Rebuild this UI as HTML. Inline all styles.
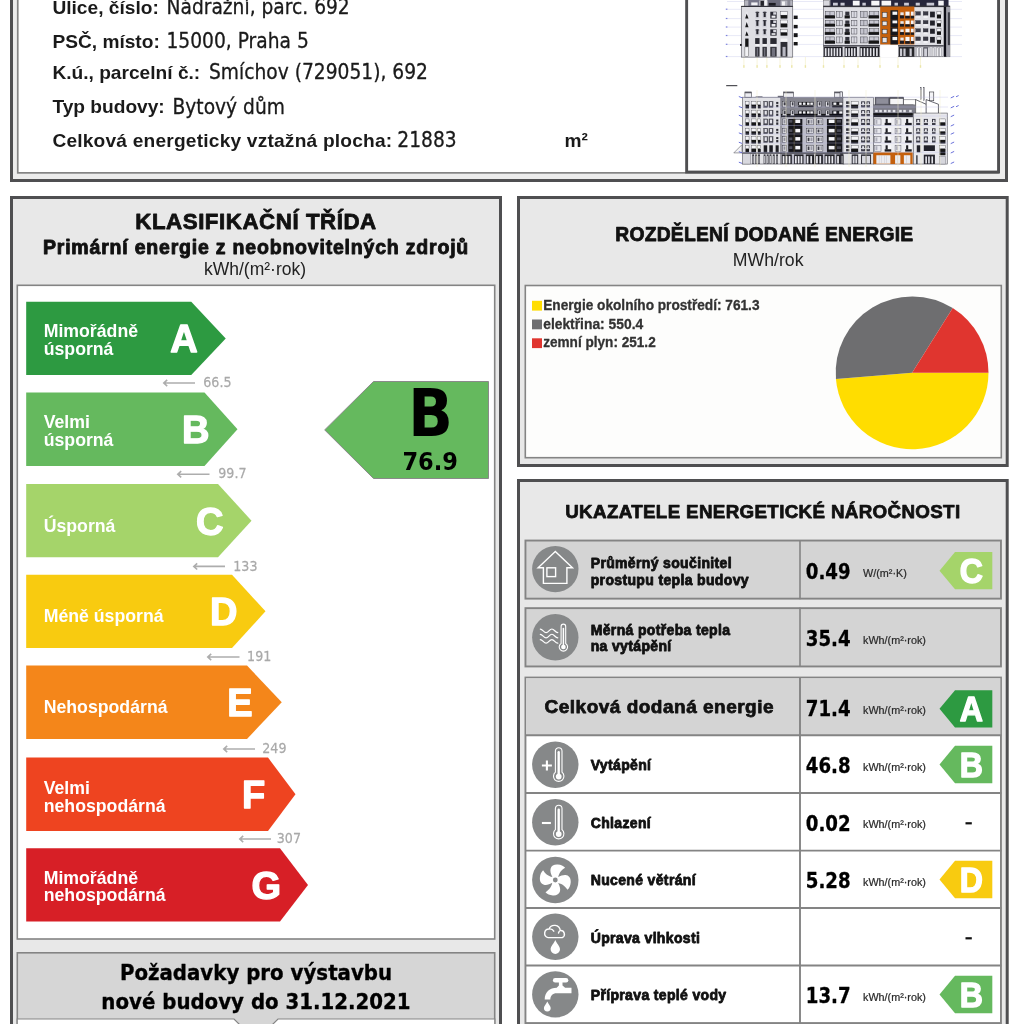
<!DOCTYPE html>
<html lang="cs"><head><meta charset="utf-8"><title>Průkaz energetické náročnosti budovy</title>
<style>
html,body{margin:0;padding:0;background:#fff;}
body{width:1024px;height:1024px;position:relative;overflow:hidden;}
.a{position:absolute;box-sizing:border-box;}
text{white-space:pre;}
svg{position:absolute;left:0;top:0;overflow:visible;}
</style></head><body>
<svg width="1024" height="1024" viewBox="0 0 1024 1024">
<rect x="11.50" y="-28.50" width="995.00" height="209.00" fill="#ececec" stroke="#4f4f51" stroke-width="3.0"/>
<rect x="17.75" y="-29.15" width="980.30" height="202.00" fill="#fff" stroke="#848484" stroke-width="1.7"/>
<rect x="686.65" y="-28.55" width="311.90" height="200.60" fill="#fff" stroke="#4f4f51" stroke-width="2.9"/>
<text x="52.4" y="14" text-anchor="start" fill="#1a1a1a" style="font:bold 19.15px 'Liberation Sans', sans-serif;">Ulice, číslo:</text>
<text x="166.5" y="14" text-anchor="start" fill="#1a1a1a" stroke="#1a1a1a" stroke-width="0.3" stroke-linejoin="round" transform="translate(166.5 0) scale(0.9 1) translate(-166.5 0)" style="font:normal 20.75px 'DejaVu Sans', sans-serif;">Nádražní, parc. 692</text>
<text x="52.4" y="48" text-anchor="start" fill="#1a1a1a" style="font:bold 19.15px 'Liberation Sans', sans-serif;">PSČ, místo:</text>
<text x="166.5" y="48" text-anchor="start" fill="#1a1a1a" stroke="#1a1a1a" stroke-width="0.3" stroke-linejoin="round" transform="translate(166.5 0) scale(0.9 1) translate(-166.5 0)" style="font:normal 20.75px 'DejaVu Sans', sans-serif;">15000, Praha 5</text>
<text x="52.4" y="79" text-anchor="start" fill="#1a1a1a" style="font:bold 19.15px 'Liberation Sans', sans-serif;">K.ú., parcelní č.:</text>
<text x="209" y="79" text-anchor="start" fill="#1a1a1a" stroke="#1a1a1a" stroke-width="0.3" stroke-linejoin="round" transform="translate(209 0) scale(0.9 1) translate(-209 0)" style="font:normal 20.75px 'DejaVu Sans', sans-serif;">Smíchov (729051), 692</text>
<text x="52.4" y="113" text-anchor="start" fill="#1a1a1a" style="font:bold 19.15px 'Liberation Sans', sans-serif;">Typ budovy:</text>
<text x="172.5" y="114" text-anchor="start" fill="#1a1a1a" stroke="#1a1a1a" stroke-width="0.3" stroke-linejoin="round" transform="translate(172.5 0) scale(0.9 1) translate(-172.5 0)" style="font:normal 20.75px 'DejaVu Sans', sans-serif;">Bytový dům</text>
<text x="52.4" y="147" text-anchor="start" fill="#1a1a1a" style="font:bold 19.15px 'Liberation Sans', sans-serif;letter-spacing:0.2px;">Celková energeticky vztažná plocha:</text>
<text x="397.3" y="147" text-anchor="start" fill="#1a1a1a" stroke="#1a1a1a" stroke-width="0.3" stroke-linejoin="round" transform="translate(397.3 0) scale(0.9 1) translate(-397.3 0)" style="font:normal 20.75px 'DejaVu Sans', sans-serif;">21883</text>
<text x="564.6" y="147" text-anchor="start" fill="#1a1a1a" style="font:bold 19.15px 'Liberation Sans', sans-serif;">m²</text>
<rect x="11.50" y="197.50" width="489.00" height="897.00" fill="#e8e8e8" stroke="#4f4f51" stroke-width="3.0"/>
<text x="256.0" y="229" text-anchor="middle" fill="#111" stroke="#111" stroke-width="0.8" stroke-linejoin="round" style="font:bold 22.3px 'Liberation Sans', sans-serif;letter-spacing:0.55px;">KLASIFIKAČNÍ TŘÍDA</text>
<text x="256.0" y="254" text-anchor="middle" fill="#111" stroke="#111" stroke-width="0.9" stroke-linejoin="round" style="font:bold 19.5px 'Liberation Sans', sans-serif;letter-spacing:0.8px;">Primární energie z neobnovitelných zdrojů</text>
<text x="255.0" y="274.5" text-anchor="middle" fill="#222" style="font:normal 17.5px 'Liberation Sans', sans-serif;">kWh/(m²·rok)</text>
<rect x="17.30" y="285.30" width="477.40" height="653.70" fill="#fff" stroke="#848484" stroke-width="1.6"/>
<rect x="518.50" y="197.50" width="488.70" height="268.00" fill="#e8e8e8" stroke="#4f4f51" stroke-width="3.0"/>
<text x="764.35" y="240.5" text-anchor="middle" fill="#111" stroke="#111" stroke-width="0.75" stroke-linejoin="round" style="font:bold 19.3px 'Liberation Sans', sans-serif;letter-spacing:0.24px;">ROZDĚLENÍ DODANÉ ENERGIE</text>
<text x="768.15" y="266" text-anchor="middle" fill="#222" style="font:normal 17.7px 'Liberation Sans', sans-serif;">MWh/rok</text>
<rect x="525.30" y="285.50" width="476.00" height="172.20" fill="#fdfdfc" stroke="#848484" stroke-width="1.6"/>
<rect x="518.50" y="480.50" width="488.70" height="697.00" fill="#e8e8e8" stroke="#4f4f51" stroke-width="3.0"/>
<text x="762.85" y="518" text-anchor="middle" fill="#111" stroke="#111" stroke-width="0.75" stroke-linejoin="round" style="font:bold 18.8px 'Liberation Sans', sans-serif;letter-spacing:0.33px;">UKAZATELE ENERGETICKÉ NÁROČNOSTI</text>
<path d="M26.2 301.75H191.25L225.75 338.4L191.25 375.05H26.2Z" fill="#2d9a41"/>
<text x="43.7" y="337.2" text-anchor="start" fill="#fff" style="font:bold 17.7px 'Liberation Sans', sans-serif;">Mimořádně</text>
<text x="43.7" y="354.79999999999995" text-anchor="start" fill="#fff" style="font:bold 17.7px 'Liberation Sans', sans-serif;">úsporná</text>
<text x="183.95" y="352.4" text-anchor="middle" fill="#fff" stroke="#fff" stroke-width="1.3" stroke-linejoin="round" style="font:bold 38px 'Liberation Sans', sans-serif;">A</text>
<path d="M26.2 392.6H204.5L237.5 429.25L204.5 465.90000000000003H26.2Z" fill="#65b95e"/>
<text x="43.7" y="428.05" text-anchor="start" fill="#fff" style="font:bold 17.7px 'Liberation Sans', sans-serif;">Velmi</text>
<text x="43.7" y="445.65" text-anchor="start" fill="#fff" style="font:bold 17.7px 'Liberation Sans', sans-serif;">úsporná</text>
<text x="195.7" y="443.25" text-anchor="middle" fill="#fff" stroke="#fff" stroke-width="1.3" stroke-linejoin="round" style="font:bold 38px 'Liberation Sans', sans-serif;">B</text>
<path d="M26.2 484.0H218L251.5 520.65L218 557.3H26.2Z" fill="#a5d46a"/>
<text x="43.7" y="531.65" text-anchor="start" fill="#fff" style="font:bold 17.7px 'Liberation Sans', sans-serif;">Úsporná</text>
<text x="209.7" y="534.65" text-anchor="middle" fill="#fff" stroke="#fff" stroke-width="1.3" stroke-linejoin="round" style="font:bold 38px 'Liberation Sans', sans-serif;">C</text>
<path d="M26.2 574.7H232L265.5 611.35L232 648.0H26.2Z" fill="#f8cb10"/>
<text x="43.7" y="622.35" text-anchor="start" fill="#fff" style="font:bold 17.7px 'Liberation Sans', sans-serif;">Méně úsporná</text>
<text x="223.7" y="625.35" text-anchor="middle" fill="#fff" stroke="#fff" stroke-width="1.3" stroke-linejoin="round" style="font:bold 38px 'Liberation Sans', sans-serif;">D</text>
<path d="M26.2 665.6H247L281.75 702.25L247 738.9H26.2Z" fill="#f4861a"/>
<text x="43.7" y="713.25" text-anchor="start" fill="#fff" style="font:bold 17.7px 'Liberation Sans', sans-serif;">Nehospodárná</text>
<text x="239.95" y="716.25" text-anchor="middle" fill="#fff" stroke="#fff" stroke-width="1.3" stroke-linejoin="round" style="font:bold 38px 'Liberation Sans', sans-serif;">E</text>
<path d="M26.2 757.6H268L295.5 794.25L268 830.9H26.2Z" fill="#ee4420"/>
<text x="43.7" y="794.4499999999999" text-anchor="start" fill="#fff" style="font:bold 17.7px 'Liberation Sans', sans-serif;">Velmi</text>
<text x="43.7" y="812.47" text-anchor="start" fill="#fff" style="font:bold 17.7px 'Liberation Sans', sans-serif;">nehospodárná</text>
<text x="253.7" y="808.25" text-anchor="middle" fill="#fff" stroke="#fff" stroke-width="1.3" stroke-linejoin="round" style="font:bold 38px 'Liberation Sans', sans-serif;">F</text>
<path d="M26.2 848.3H280L308 884.9499999999999L280 921.5999999999999H26.2Z" fill="#d71f26"/>
<text x="43.7" y="883.7499999999999" text-anchor="start" fill="#fff" style="font:bold 17.7px 'Liberation Sans', sans-serif;">Mimořádně</text>
<text x="43.7" y="901.3499999999999" text-anchor="start" fill="#fff" style="font:bold 17.7px 'Liberation Sans', sans-serif;">nehospodárná</text>
<text x="266.2" y="898.9499999999999" text-anchor="middle" fill="#fff" stroke="#fff" stroke-width="1.3" stroke-linejoin="round" style="font:bold 38px 'Liberation Sans', sans-serif;">G</text>
<path d="M163.8 383.0H195M167.2 379.90000000000003L163.8 383.0L167.2 386.1" fill="none" stroke="#adadad" stroke-width="1.6"/>
<text x="203.29999999999998" y="387.2" text-anchor="start" fill="#a9a9a9" stroke="#a9a9a9" stroke-width="0.25" stroke-linejoin="round" transform="translate(203.29999999999998 0) scale(0.873 1) translate(-203.29999999999998 0)" style="font:normal 14.5px 'DejaVu Sans', sans-serif;">66.5</text>
<path d="M177.8 474.2H209.5M181.2 471.1L177.8 474.2L181.2 477.3" fill="none" stroke="#adadad" stroke-width="1.6"/>
<text x="218.29999999999998" y="478.4" text-anchor="start" fill="#a9a9a9" stroke="#a9a9a9" stroke-width="0.25" stroke-linejoin="round" transform="translate(218.29999999999998 0) scale(0.873 1) translate(-218.29999999999998 0)" style="font:normal 14.5px 'DejaVu Sans', sans-serif;">99.7</text>
<path d="M193.8 566.4000000000001H225M197.2 563.3000000000001L193.8 566.4000000000001L197.2 569.5" fill="none" stroke="#adadad" stroke-width="1.6"/>
<text x="233.29999999999998" y="570.6" text-anchor="start" fill="#a9a9a9" stroke="#a9a9a9" stroke-width="0.25" stroke-linejoin="round" transform="translate(233.29999999999998 0) scale(0.873 1) translate(-233.29999999999998 0)" style="font:normal 14.5px 'DejaVu Sans', sans-serif;">133</text>
<path d="M207.8 657.0H239.5M211.2 653.9L207.8 657.0L211.2 660.0999999999999" fill="none" stroke="#adadad" stroke-width="1.6"/>
<text x="247.1" y="661.1999999999999" text-anchor="start" fill="#a9a9a9" stroke="#a9a9a9" stroke-width="0.25" stroke-linejoin="round" transform="translate(247.1 0) scale(0.873 1) translate(-247.1 0)" style="font:normal 14.5px 'DejaVu Sans', sans-serif;">191</text>
<path d="M223.8 749.0H255M227.2 745.9L223.8 749.0L227.2 752.0999999999999" fill="none" stroke="#adadad" stroke-width="1.6"/>
<text x="262.3" y="753.1999999999999" text-anchor="start" fill="#a9a9a9" stroke="#a9a9a9" stroke-width="0.25" stroke-linejoin="round" transform="translate(262.3 0) scale(0.873 1) translate(-262.3 0)" style="font:normal 14.5px 'DejaVu Sans', sans-serif;">249</text>
<path d="M239.8 839.0H271M243.2 835.9L239.8 839.0L243.2 842.0999999999999" fill="none" stroke="#adadad" stroke-width="1.6"/>
<text x="276.8" y="843.1999999999999" text-anchor="start" fill="#a9a9a9" stroke="#a9a9a9" stroke-width="0.25" stroke-linejoin="round" transform="translate(276.8 0) scale(0.873 1) translate(-276.8 0)" style="font:normal 14.5px 'DejaVu Sans', sans-serif;">307</text>
<path d="M324.7 429.9L373.5 381.5H488.5V478.5H373.5Z" fill="#65b95e" stroke="#8a8a8a" stroke-width="1"/>
<text x="430.5" y="436" text-anchor="middle" fill="#000" transform="translate(430.5 0) scale(0.9 1) translate(-430.5 0)" style="font:bold 65px 'DejaVu Sans', sans-serif;">B</text>
<text x="430.2" y="469.7" text-anchor="middle" fill="#000" transform="translate(430.2 0) scale(0.9 1) translate(-430.2 0)" style="font:bold 25px 'DejaVu Sans', sans-serif;">76.9</text>
<rect x="17.30" y="952.80" width="477.40" height="118.40" fill="#d6d6d6" stroke="#848484" stroke-width="1.6"/>
<text x="256.0" y="980" text-anchor="middle" fill="#000" stroke="#000" stroke-width="0.35" stroke-linejoin="round" transform="translate(256.0 0) scale(0.9 1) translate(-256.0 0)" style="font:bold 22px 'DejaVu Sans', sans-serif;">Požadavky pro výstavbu</text>
<text x="256.0" y="1008.9" text-anchor="middle" fill="#000" stroke="#000" stroke-width="0.35" stroke-linejoin="round" transform="translate(256.0 0) scale(0.9 1) translate(-256.0 0)" style="font:bold 22px 'DejaVu Sans', sans-serif;">nové budovy do 31.12.2021</text>
<path d="M17.2 1040V1019H234L256 1041L278 1019H494.8V1040Z" fill="#fff" stroke="#848484" stroke-width="1.2"/>
<path d="M912.1 372.8L988.50 372.80A76.4 76.4 0 0 1 835.95 378.98Z" fill="#ffdd00"/>
<path d="M912.1 372.8L835.95 378.98A76.4 76.4 0 0 1 952.74 308.11Z" fill="#6e6e70"/>
<path d="M912.1 372.8L952.74 308.11A76.4 76.4 0 0 1 988.50 372.80Z" fill="#e0352f"/>
<rect x="532" y="300.8" width="10" height="9.8" fill="#ffdd00"/>
<text x="543.2" y="309.8" text-anchor="start" fill="#333" stroke="#333" stroke-width="0.3" stroke-linejoin="round" textLength="216.3" lengthAdjust="spacingAndGlyphs" style="font:bold 14.5px 'Liberation Sans', sans-serif;">Energie okolního prostředí: 761.3</text>
<rect x="532" y="319.5" width="10" height="9.8" fill="#6e6e70"/>
<text x="543.2" y="328.5" text-anchor="start" fill="#333" stroke="#333" stroke-width="0.3" stroke-linejoin="round" textLength="100" lengthAdjust="spacingAndGlyphs" style="font:bold 14.5px 'Liberation Sans', sans-serif;">elektřina: 550.4</text>
<rect x="532" y="338.3" width="10" height="9.8" fill="#e0352f"/>
<text x="543.2" y="347.3" text-anchor="start" fill="#333" stroke="#333" stroke-width="0.3" stroke-linejoin="round" textLength="112.5" lengthAdjust="spacingAndGlyphs" style="font:bold 14.5px 'Liberation Sans', sans-serif;">zemní plyn: 251.2</text>
<rect x="525.45" y="540.55" width="475.50" height="58.10" fill="#d4d4d4" stroke="#848484" stroke-width="1.9"/>
<path d="M800 540V599.2" stroke="#848484" stroke-width="1.6"/>
<rect x="525.45" y="608.15" width="475.50" height="58.30" fill="#d4d4d4" stroke="#848484" stroke-width="1.9"/>
<path d="M800 607.6V667.0" stroke="#848484" stroke-width="1.6"/>
<text x="590.7" y="568.3" text-anchor="start" fill="#111" stroke="#111" stroke-width="0.8" stroke-linejoin="round" style="font:bold 14px 'Liberation Sans', sans-serif;letter-spacing:0.35px;">Průměrný součinitel</text>
<text x="590.7" y="585" text-anchor="start" fill="#111" stroke="#111" stroke-width="0.8" stroke-linejoin="round" style="font:bold 14px 'Liberation Sans', sans-serif;letter-spacing:0.35px;">prostupu tepla budovy</text>
<text x="805.8" y="579.0" text-anchor="start" fill="#000" stroke="#000" stroke-width="0.3" stroke-linejoin="round" transform="translate(805.8 0) scale(0.855 1) translate(-805.8 0)" style="font:bold 21.3px 'DejaVu Sans', sans-serif;">0.49</text>
<text x="863" y="576.5999999999999" text-anchor="start" fill="#2a2a2a" stroke="#2a2a2a" stroke-width="0.22" stroke-linejoin="round" style="font:normal 10.8px 'Liberation Sans', sans-serif;">W/(m²·K)</text>
<path d="M939.5 570.7L955 552.0500000000001H992.3V589.35H955Z" fill="#a5d46a"/>
<text x="971.3" y="583.3000000000001" text-anchor="middle" fill="#fff" stroke="#fff" stroke-width="1.4" stroke-linejoin="round" transform="translate(971.3 0) scale(0.93 1) translate(-971.3 0)" style="font:bold 34.5px 'Liberation Sans', sans-serif;">C</text>
<text x="590.7" y="634.5" text-anchor="start" fill="#111" stroke="#111" stroke-width="0.8" stroke-linejoin="round" style="font:bold 14px 'Liberation Sans', sans-serif;letter-spacing:0.35px;">Měrná potřeba tepla</text>
<text x="590.7" y="650.5" text-anchor="start" fill="#111" stroke="#111" stroke-width="0.8" stroke-linejoin="round" style="font:bold 14px 'Liberation Sans', sans-serif;letter-spacing:0.35px;">na vytápění</text>
<text x="805.8" y="646.5" text-anchor="start" fill="#000" stroke="#000" stroke-width="0.3" stroke-linejoin="round" transform="translate(805.8 0) scale(0.855 1) translate(-805.8 0)" style="font:bold 21.3px 'DejaVu Sans', sans-serif;">35.4</text>
<text x="863" y="644.0999999999999" text-anchor="start" fill="#2a2a2a" stroke="#2a2a2a" stroke-width="0.22" stroke-linejoin="round" style="font:normal 10.8px 'Liberation Sans', sans-serif;">kWh/(m²·rok)</text>
<rect x="525.45" y="677.55" width="475.50" height="345.50" fill="#fff" stroke="#848484" stroke-width="1.9"/>
<rect x="526.00" y="678.20" width="474.40" height="57.00" fill="#d4d4d4"/>
<path d="M525 735.3H1001.5" stroke="#848484" stroke-width="1.9"/>
<path d="M525 793H1001.5" stroke="#848484" stroke-width="1.9"/>
<path d="M525 850.6H1001.5" stroke="#848484" stroke-width="1.9"/>
<path d="M525 908H1001.5" stroke="#848484" stroke-width="1.9"/>
<path d="M525 965.5H1001.5" stroke="#848484" stroke-width="1.9"/>
<path d="M800 677V1024" stroke="#848484" stroke-width="1.9"/>
<text x="544.5" y="712.5" text-anchor="start" fill="#111" stroke="#111" stroke-width="0.75" stroke-linejoin="round" style="font:bold 19px 'Liberation Sans', sans-serif;letter-spacing:0.5px;">Celková dodaná energie</text>
<text x="805.8" y="716.5" text-anchor="start" fill="#000" stroke="#000" stroke-width="0.3" stroke-linejoin="round" transform="translate(805.8 0) scale(0.855 1) translate(-805.8 0)" style="font:bold 21.3px 'DejaVu Sans', sans-serif;">71.4</text>
<text x="863" y="714.0999999999999" text-anchor="start" fill="#2a2a2a" stroke="#2a2a2a" stroke-width="0.22" stroke-linejoin="round" style="font:normal 10.8px 'Liberation Sans', sans-serif;">kWh/(m²·rok)</text>
<path d="M939.5 708.8L955 690.15H992.3V727.4499999999999H955Z" fill="#2d9a41"/>
<text x="971.3" y="721.4" text-anchor="middle" fill="#fff" stroke="#fff" stroke-width="1.4" stroke-linejoin="round" transform="translate(971.3 0) scale(0.93 1) translate(-971.3 0)" style="font:bold 34.5px 'Liberation Sans', sans-serif;">A</text>
<text x="590.7" y="770.1" text-anchor="start" fill="#111" stroke="#111" stroke-width="0.8" stroke-linejoin="round" style="font:bold 14px 'Liberation Sans', sans-serif;letter-spacing:0.35px;">Vytápění</text>
<text x="805.8" y="773.3000000000001" text-anchor="start" fill="#000" stroke="#000" stroke-width="0.3" stroke-linejoin="round" transform="translate(805.8 0) scale(0.855 1) translate(-805.8 0)" style="font:bold 21.3px 'DejaVu Sans', sans-serif;">46.8</text>
<text x="863" y="770.9" text-anchor="start" fill="#2a2a2a" stroke="#2a2a2a" stroke-width="0.22" stroke-linejoin="round" style="font:normal 10.8px 'Liberation Sans', sans-serif;">kWh/(m²·rok)</text>
<path d="M939.5 764.5L955 745.85H992.3V783.15H955Z" fill="#65b95e"/>
<text x="971.3" y="777.1" text-anchor="middle" fill="#fff" stroke="#fff" stroke-width="1.4" stroke-linejoin="round" transform="translate(971.3 0) scale(0.93 1) translate(-971.3 0)" style="font:bold 34.5px 'Liberation Sans', sans-serif;">B</text>
<text x="590.7" y="827.6" text-anchor="start" fill="#111" stroke="#111" stroke-width="0.8" stroke-linejoin="round" style="font:bold 14px 'Liberation Sans', sans-serif;letter-spacing:0.35px;">Chlazení</text>
<text x="805.8" y="830.8000000000001" text-anchor="start" fill="#000" stroke="#000" stroke-width="0.3" stroke-linejoin="round" transform="translate(805.8 0) scale(0.855 1) translate(-805.8 0)" style="font:bold 21.3px 'DejaVu Sans', sans-serif;">0.02</text>
<text x="863" y="828.4" text-anchor="start" fill="#2a2a2a" stroke="#2a2a2a" stroke-width="0.22" stroke-linejoin="round" style="font:normal 10.8px 'Liberation Sans', sans-serif;">kWh/(m²·rok)</text>
<rect x="965.5" y="822.2" width="6.3" height="2.2" fill="#111"/>
<text x="590.7" y="885.1" text-anchor="start" fill="#111" stroke="#111" stroke-width="0.8" stroke-linejoin="round" style="font:bold 14px 'Liberation Sans', sans-serif;letter-spacing:0.35px;">Nucené větrání</text>
<text x="805.8" y="888.3000000000001" text-anchor="start" fill="#000" stroke="#000" stroke-width="0.3" stroke-linejoin="round" transform="translate(805.8 0) scale(0.855 1) translate(-805.8 0)" style="font:bold 21.3px 'DejaVu Sans', sans-serif;">5.28</text>
<text x="863" y="885.9" text-anchor="start" fill="#2a2a2a" stroke="#2a2a2a" stroke-width="0.22" stroke-linejoin="round" style="font:normal 10.8px 'Liberation Sans', sans-serif;">kWh/(m²·rok)</text>
<path d="M939.5 879.5L955 860.85H992.3V898.15H955Z" fill="#f8cb10"/>
<text x="971.3" y="892.1" text-anchor="middle" fill="#fff" stroke="#fff" stroke-width="1.4" stroke-linejoin="round" transform="translate(971.3 0) scale(0.93 1) translate(-971.3 0)" style="font:bold 34.5px 'Liberation Sans', sans-serif;">D</text>
<text x="590.7" y="942.6" text-anchor="start" fill="#111" stroke="#111" stroke-width="0.8" stroke-linejoin="round" style="font:bold 14px 'Liberation Sans', sans-serif;letter-spacing:0.35px;">Úprava vlhkosti</text>
<rect x="965.5" y="937.2" width="6.3" height="2.2" fill="#111"/>
<text x="590.7" y="1000.1" text-anchor="start" fill="#111" stroke="#111" stroke-width="0.8" stroke-linejoin="round" style="font:bold 14px 'Liberation Sans', sans-serif;letter-spacing:0.35px;">Příprava teplé vody</text>
<text x="805.8" y="1003.3000000000001" text-anchor="start" fill="#000" stroke="#000" stroke-width="0.3" stroke-linejoin="round" transform="translate(805.8 0) scale(0.855 1) translate(-805.8 0)" style="font:bold 21.3px 'DejaVu Sans', sans-serif;">13.7</text>
<text x="863" y="1000.9" text-anchor="start" fill="#2a2a2a" stroke="#2a2a2a" stroke-width="0.22" stroke-linejoin="round" style="font:normal 10.8px 'Liberation Sans', sans-serif;">kWh/(m²·rok)</text>
<path d="M939.5 994.5L955 975.85H992.3V1013.15H955Z" fill="#65b95e"/>
<text x="971.3" y="1007.1" text-anchor="middle" fill="#fff" stroke="#fff" stroke-width="1.4" stroke-linejoin="round" transform="translate(971.3 0) scale(0.93 1) translate(-971.3 0)" style="font:bold 34.5px 'Liberation Sans', sans-serif;">B</text>
<g transform="translate(555.3 569.1)"><circle r="23.2" fill="#868889"/><path d="M0 -17.6L-17.2 -1.3H-11.9V14.3H11.6V-1.3H17.2Z" fill="none" stroke="#fff" stroke-width="1.4" stroke-linejoin="miter"/><rect x="-8.4" y="-1.3" width="8.7" height="8.8" fill="none" stroke="#fff" stroke-width="1.4" stroke-linejoin="miter"/></g>
<g transform="translate(555.3 637.3)"><circle r="23.2" fill="#868889"/><path d="M-15 -8.2C-12.6 -8.2 -11.6 -4.7 -9.2 -4.7S-5.9 -8.3 -3.4 -8.3S-0.2 -4.7 2.5 -4.7" fill="none" stroke="#fff" stroke-width="1.2" stroke-linecap="round"/><path d="M-15 -2.95C-12.6 -2.95 -11.6 0.55 -9.2 0.55S-5.9 -3.05 -3.4 -3.05S-0.2 0.55 2.5 0.55" fill="none" stroke="#fff" stroke-width="1.2" stroke-linecap="round"/><path d="M-15 2.3499999999999996C-12.6 2.3499999999999996 -11.6 5.85 -9.2 5.85S-5.9 2.25 -3.4 2.25S-0.2 5.85 2.5 5.85" fill="none" stroke="#fff" stroke-width="1.2" stroke-linecap="round"/><path d="M5.8 6.129999999999999V-10.899999999999999A2.3 2.3 0 0 1 10.399999999999999 -10.899999999999999V6.129999999999999A4.2 4.2 0 1 1 5.8 6.129999999999999Z" fill="none" stroke="#fff" stroke-width="1.1"/><circle cx="8.1" cy="9.7" r="2.3100000000000005" fill="#fff"/><path d="M8.1 9.7V-8.7" stroke="#fff" stroke-width="1.5" stroke-linecap="round"/></g>
<g transform="translate(555.3 764.7)"><circle r="23.2" fill="#868889"/><path d="M-13.4 0.8H-3.4M-8.4 -4.2V5.8" stroke="#fff" stroke-width="2.1"/><path d="M0.10000000000000009 7.48V-13.7A3.3 3.3 0 0 1 6.699999999999999 -13.7V7.48A5.2 5.2 0 1 1 0.10000000000000009 7.48Z" fill="none" stroke="#fff" stroke-width="1.1"/><circle cx="3.4" cy="11.9" r="2.8600000000000003" fill="#fff"/><path d="M3.4 11.9V-12.5" stroke="#fff" stroke-width="2.4" stroke-linecap="round"/></g>
<g transform="translate(555.3 822.2)"><circle r="23.2" fill="#868889"/><path d="M-13.4 0.8H-4.4" stroke="#fff" stroke-width="2.1"/><path d="M0.10000000000000009 7.48V-13.7A3.3 3.3 0 0 1 6.699999999999999 -13.7V7.48A5.2 5.2 0 1 1 0.10000000000000009 7.48Z" fill="none" stroke="#fff" stroke-width="1.1"/><circle cx="3.4" cy="11.9" r="2.8600000000000003" fill="#fff"/><path d="M3.4 11.9V-12.5" stroke="#fff" stroke-width="2.4" stroke-linecap="round"/></g>
<g transform="translate(555.3 880)"><circle r="23.2" fill="#868889"/><g transform="rotate(0)"><path d="M-2.6 -2.4C-4.6 -6 -5.3 -9 -4.7 -11.3C-4 -14.3 -1 -15.7 2.5 -15.4C5.6 -15.1 8.2 -14 9.8 -12.2C6.8 -10.4 3.9 -7.6 2.9 -2.6Z" fill="#fff"/></g><g transform="rotate(90)"><path d="M-2.6 -2.4C-4.6 -6 -5.3 -9 -4.7 -11.3C-4 -14.3 -1 -15.7 2.5 -15.4C5.6 -15.1 8.2 -14 9.8 -12.2C6.8 -10.4 3.9 -7.6 2.9 -2.6Z" fill="#fff"/></g><g transform="rotate(180)"><path d="M-2.6 -2.4C-4.6 -6 -5.3 -9 -4.7 -11.3C-4 -14.3 -1 -15.7 2.5 -15.4C5.6 -15.1 8.2 -14 9.8 -12.2C6.8 -10.4 3.9 -7.6 2.9 -2.6Z" fill="#fff"/></g><g transform="rotate(270)"><path d="M-2.6 -2.4C-4.6 -6 -5.3 -9 -4.7 -11.3C-4 -14.3 -1 -15.7 2.5 -15.4C5.6 -15.1 8.2 -14 9.8 -12.2C6.8 -10.4 3.9 -7.6 2.9 -2.6Z" fill="#fff"/></g><circle r="4.2" fill="#fff"/><circle r="2.4" fill="#868889"/></g>
<g transform="translate(555.3 936.8)"><circle r="23.2" fill="#868889"/><path d="M-7.2 0.8A4.35 4.35 0 0 1 -6.3 -7.8A5.9 5.9 0 0 1 5 -6.3A3.75 3.75 0 0 1 7 0.8Z M-6.3 -7.8A4.6 4.6 0 0 1 -1.5 -5.6 M5 -6.3A3.6 3.6 0 0 0 3.2 -3.8" fill="none" stroke="#fff" stroke-width="1.4" stroke-linecap="round" stroke-linejoin="round"/><path d="M0 3.2C1.4 6.6 4.7 9.6 4.7 12.4A4.7 4.7 0 0 1 -4.7 12.4C-4.7 9.6 -1.4 6.6 0 3.2Z" fill="#fff"/></g>
<g transform="translate(555.3 994.4)"><circle r="23.2" fill="#868889"/><rect x="-2.4" y="-16.4" width="15.4" height="4.5" rx="2.25" fill="#fff"/><path d="M3.6 -12.5H7.2V-9L9.8 -6.6H16.2V-1.2H1.2C-2.6 -1.2 -5 1.4 -5 5.2H-10.6C-10.6 -2.4 -5.4 -6.6 1.4 -6.6L3.6 -9Z" fill="#fff"/><path d="M-8 7.2C-7 9.8 -4.6 11.6 -4.6 13.6A3.4 3.4 0 0 1 -11.4 13.6C-11.4 11.6 -9 9.8 -8 7.2Z" fill="#fff"/></g>
<defs><filter id="soft" x="-2%" y="-2%" width="104%" height="104%"><feGaussianBlur stdDeviation="0.38"/></filter></defs><g id="facades" filter="url(#soft)"><path d="M727 9.3H962" fill="none" stroke="#d9daf0" stroke-width="0.6"/><rect x="725.80" y="8.60" width="1.60" height="1.20" fill="#7d82dc"/><path d="M727 18.6H962" fill="none" stroke="#d9daf0" stroke-width="0.6"/><rect x="725.80" y="17.90" width="1.60" height="1.20" fill="#7d82dc"/><path d="M727 27.1H962" fill="none" stroke="#d9daf0" stroke-width="0.6"/><rect x="725.80" y="26.40" width="1.60" height="1.20" fill="#7d82dc"/><path d="M727 35.6H962" fill="none" stroke="#d9daf0" stroke-width="0.6"/><rect x="725.80" y="34.90" width="1.60" height="1.20" fill="#7d82dc"/><path d="M727 44.4H962" fill="none" stroke="#d9daf0" stroke-width="0.6"/><rect x="725.80" y="43.70" width="1.60" height="1.20" fill="#7d82dc"/><path d="M727 56.6H962" fill="none" stroke="#d9daf0" stroke-width="0.6"/><rect x="725.80" y="55.90" width="1.60" height="1.20" fill="#7d82dc"/><path d="M727 1.5H962" fill="none" stroke="#d9daf0" stroke-width="0.6"/><path d="M743.9 57V66" fill="none" stroke="#f1edc2" stroke-width="0.6"/><rect x="743.20" y="65.20" width="1.40" height="2.60" fill="#ece6a8"/><path d="M757.1 57V66" fill="none" stroke="#f1edc2" stroke-width="0.6"/><rect x="756.40" y="65.20" width="1.40" height="2.60" fill="#ece6a8"/><path d="M766.9 57V66" fill="none" stroke="#f1edc2" stroke-width="0.6"/><rect x="766.20" y="65.20" width="1.40" height="2.60" fill="#ece6a8"/><path d="M780 57V66" fill="none" stroke="#f1edc2" stroke-width="0.6"/><rect x="779.30" y="65.20" width="1.40" height="2.60" fill="#ece6a8"/><path d="M791.8 57V66" fill="none" stroke="#f1edc2" stroke-width="0.6"/><rect x="791.10" y="65.20" width="1.40" height="2.60" fill="#ece6a8"/><path d="M805.4 57V66" fill="none" stroke="#f1edc2" stroke-width="0.6"/><rect x="804.70" y="65.20" width="1.40" height="2.60" fill="#ece6a8"/><path d="M823.5 57V66" fill="none" stroke="#f1edc2" stroke-width="0.6"/><rect x="822.80" y="65.20" width="1.40" height="2.60" fill="#ece6a8"/><path d="M844 57V66" fill="none" stroke="#f1edc2" stroke-width="0.6"/><rect x="843.30" y="65.20" width="1.40" height="2.60" fill="#ece6a8"/><path d="M858 57V66" fill="none" stroke="#f1edc2" stroke-width="0.6"/><rect x="857.30" y="65.20" width="1.40" height="2.60" fill="#ece6a8"/><path d="M880 57V66" fill="none" stroke="#f1edc2" stroke-width="0.6"/><rect x="879.30" y="65.20" width="1.40" height="2.60" fill="#ece6a8"/><path d="M898 57V66" fill="none" stroke="#f1edc2" stroke-width="0.6"/><rect x="897.30" y="65.20" width="1.40" height="2.60" fill="#ece6a8"/><path d="M920.5 57V66" fill="none" stroke="#f1edc2" stroke-width="0.6"/><rect x="919.80" y="65.20" width="1.40" height="2.60" fill="#ece6a8"/><rect x="741.29" y="6.35" width="51.46" height="50.78" fill="#dedee3" stroke="#505058" stroke-width="0.6"/><rect x="744.41" y="0.00" width="48.34" height="6.35" fill="#b4b4be" stroke="#505058" stroke-width="0.5"/><rect x="748.32" y="0.00" width="10.74" height="6.05" fill="#77778a"/><rect x="751.25" y="2.44" width="6.35" height="2.93" fill="#f0f0f4"/><rect x="760.53" y="0.98" width="3.42" height="4.88" fill="#22222a"/><rect x="764.43" y="0.00" width="2.44" height="5.86" fill="#f4f4f6"/><rect x="767.85" y="0.00" width="12.70" height="6.05" fill="#6c6c7c"/><rect x="768.83" y="2.93" width="6.84" height="2.73" fill="#1a1a22"/><rect x="782.01" y="1.46" width="2.93" height="4.20" fill="#f4f4f6"/><rect x="787.38" y="0.00" width="2.93" height="6.05" fill="#8a8a96"/><rect x="741.29" y="5.86" width="51.46" height="0.98" fill="#2a2a30"/><rect x="745.59" y="11.72" width="2.25" height="6.84" fill="#e8e8ec"/><path d="M745.20 18.55L746.66 13.67L748.52 18.55Z" fill="#121216"/><rect x="755.16" y="11.72" width="4.39" height="6.84" fill="#d0d0d8"/><rect x="756.33" y="11.72" width="2.05" height="5.37" fill="#26262e"/><rect x="755.55" y="11.91" width="3.61" height="0.98" fill="#3a3a44"/><rect x="762.48" y="11.72" width="4.39" height="6.84" fill="#d0d0d8"/><rect x="763.65" y="11.72" width="2.05" height="5.37" fill="#26262e"/><rect x="762.87" y="11.91" width="3.61" height="0.98" fill="#3a3a44"/><rect x="770.29" y="11.72" width="6.35" height="6.84" fill="#2c2c36"/><rect x="771.56" y="15.62" width="3.91" height="2.15" fill="#eeeef2"/><rect x="773.22" y="12.21" width="2.93" height="2.44" fill="#d8d8e0"/><rect x="780.55" y="11.72" width="6.84" height="3.42" fill="#f4f4f6" stroke="#3c3c44" stroke-width="0.35"/><rect x="780.55" y="15.14" width="6.84" height="3.42" fill="#121216"/><rect x="745.59" y="20.02" width="2.25" height="7.32" fill="#e8e8ec"/><path d="M745.20 27.34L746.66 21.97L748.52 27.34Z" fill="#121216"/><rect x="755.16" y="20.02" width="4.39" height="7.32" fill="#d0d0d8"/><rect x="756.33" y="20.02" width="2.05" height="5.86" fill="#26262e"/><rect x="755.55" y="20.21" width="3.61" height="0.98" fill="#3a3a44"/><rect x="762.48" y="20.02" width="4.39" height="7.32" fill="#d0d0d8"/><rect x="763.65" y="20.02" width="2.05" height="5.86" fill="#26262e"/><rect x="762.87" y="20.21" width="3.61" height="0.98" fill="#3a3a44"/><rect x="770.29" y="20.02" width="6.35" height="7.32" fill="#2c2c36"/><rect x="771.56" y="23.93" width="3.91" height="2.64" fill="#eeeef2"/><rect x="773.22" y="20.51" width="2.93" height="2.44" fill="#d8d8e0"/><rect x="780.55" y="20.02" width="6.84" height="3.66" fill="#f4f4f6" stroke="#3c3c44" stroke-width="0.35"/><rect x="780.55" y="23.68" width="6.84" height="3.66" fill="#121216"/><rect x="745.59" y="29.30" width="2.25" height="6.35" fill="#e8e8ec"/><path d="M745.20 35.64L746.66 31.25L748.52 35.64Z" fill="#121216"/><rect x="755.16" y="29.30" width="4.39" height="6.35" fill="#d0d0d8"/><rect x="756.33" y="29.30" width="2.05" height="4.88" fill="#26262e"/><rect x="755.55" y="29.49" width="3.61" height="0.98" fill="#3a3a44"/><rect x="762.48" y="29.30" width="4.39" height="6.35" fill="#d0d0d8"/><rect x="763.65" y="29.30" width="2.05" height="4.88" fill="#26262e"/><rect x="762.87" y="29.49" width="3.61" height="0.98" fill="#3a3a44"/><rect x="770.29" y="29.30" width="6.35" height="6.35" fill="#2c2c36"/><rect x="771.56" y="33.20" width="3.91" height="1.66" fill="#eeeef2"/><rect x="773.22" y="29.79" width="2.93" height="2.44" fill="#d8d8e0"/><rect x="780.55" y="29.30" width="6.84" height="3.17" fill="#f4f4f6" stroke="#3c3c44" stroke-width="0.35"/><rect x="780.55" y="32.47" width="6.84" height="3.17" fill="#121216"/><rect x="745.20" y="38.57" width="3.32" height="8.30" fill="#121216"/><rect x="744.90" y="46.88" width="3.61" height="9.77" fill="#f2f2f4" stroke="#444" stroke-width="0.4"/><rect x="755.16" y="38.09" width="4.39" height="5.86" fill="#2a2a32"/><rect x="755.55" y="44.14" width="3.61" height="1.95" fill="#f2f2f4"/><rect x="755.16" y="46.88" width="4.39" height="9.77" fill="#34343c"/><rect x="756.72" y="47.85" width="1.27" height="8.30" fill="#70707c"/><rect x="762.48" y="38.09" width="4.39" height="5.86" fill="#2a2a32"/><rect x="762.87" y="44.14" width="3.61" height="1.95" fill="#f2f2f4"/><rect x="762.48" y="46.88" width="4.39" height="9.77" fill="#34343c"/><rect x="764.04" y="47.85" width="1.27" height="8.30" fill="#70707c"/><rect x="770.29" y="38.09" width="6.35" height="5.86" fill="#2a2a32"/><rect x="770.68" y="44.14" width="5.57" height="1.95" fill="#f2f2f4"/><rect x="770.29" y="46.88" width="6.35" height="9.77" fill="#34343c"/><rect x="771.86" y="47.85" width="3.22" height="8.30" fill="#70707c"/><rect x="780.55" y="38.57" width="6.84" height="2.93" fill="#f4f4f6"/><rect x="780.55" y="41.99" width="6.84" height="14.65" fill="#2e2e36"/><rect x="782.50" y="46.88" width="3.12" height="9.28" fill="#b8b8c2"/><rect x="793.73" y="15.62" width="3.91" height="3.42" fill="#121216"/><rect x="793.73" y="24.90" width="3.91" height="3.42" fill="#121216"/><rect x="793.73" y="33.20" width="3.91" height="3.91" fill="#121216"/><rect x="793.73" y="41.99" width="3.91" height="3.42" fill="#121216"/><rect x="740.02" y="43.95" width="1.66" height="1.95" fill="#121216"/><rect x="823.42" y="6.15" width="126.47" height="50.59" fill="#e0e0e5" stroke="#505058" stroke-width="0.6"/><rect x="830.25" y="0.00" width="118.27" height="6.15" fill="#26263a"/><rect x="852.81" y="0.68" width="6.84" height="5.06" fill="#f6f6f8"/><rect x="871.27" y="0.68" width="8.20" height="5.06" fill="#f6f6f8"/><rect x="881.53" y="0.68" width="9.57" height="5.06" fill="#f6f6f8"/><rect x="938.27" y="0.68" width="5.47" height="5.06" fill="#f6f6f8"/><rect x="832.99" y="2.73" width="4.79" height="3.01" fill="#c9c9d4"/><rect x="840.51" y="2.73" width="4.10" height="3.01" fill="#c9c9d4"/><rect x="862.38" y="2.73" width="3.42" height="3.01" fill="#c9c9d4"/><rect x="894.51" y="2.73" width="3.42" height="3.01" fill="#c9c9d4"/><rect x="904.09" y="2.73" width="4.79" height="3.01" fill="#c9c9d4"/><rect x="915.71" y="2.73" width="4.10" height="3.01" fill="#c9c9d4"/><rect x="926.64" y="2.73" width="7.52" height="3.01" fill="#c9c9d4"/><rect x="823.42" y="0.68" width="6.15" height="5.47" fill="#d8d8de" stroke="#505058" stroke-width="0.4"/><rect x="823.42" y="5.74" width="126.47" height="1.37" fill="#34343c"/><rect x="880.16" y="6.56" width="34.18" height="37.87" fill="#c4600f"/><rect x="825.47" y="11.62" width="8.89" height="3.76" fill="#c8c8d2" stroke="#3c3c44" stroke-width="0.45"/><path d="M829.91 11.62V15.38" fill="none" stroke="#3c3c44" stroke-width="0.4"/><rect x="824.79" y="15.38" width="10.25" height="3.08" fill="#121216"/><rect x="836.41" y="11.62" width="6.15" height="6.02" fill="#d6d6de" stroke="#3c3c44" stroke-width="0.45"/><path d="M839.48 11.62V17.64" fill="none" stroke="#3c3c44" stroke-width="0.4"/><rect x="845.29" y="11.62" width="4.10" height="3.76" fill="#30303a"/><rect x="844.61" y="15.38" width="5.20" height="3.08" fill="#121216"/><rect x="851.45" y="11.62" width="5.47" height="6.02" fill="#dcdce4" stroke="#3c3c44" stroke-width="0.45"/><path d="M854.18 11.62V17.64" fill="none" stroke="#3c3c44" stroke-width="0.4"/><rect x="860.33" y="11.62" width="6.84" height="6.02" fill="#c4c4ce" stroke="#3c3c44" stroke-width="0.45"/><path d="M863.75 11.62V17.64" fill="none" stroke="#3c3c44" stroke-width="0.4"/><rect x="869.22" y="11.62" width="9.57" height="3.76" fill="#c8c8d2" stroke="#3c3c44" stroke-width="0.45"/><path d="M874.01 11.62V15.38" fill="none" stroke="#3c3c44" stroke-width="0.4"/><rect x="868.54" y="15.38" width="10.53" height="3.08" fill="#121216"/><rect x="882.21" y="12.31" width="4.79" height="5.06" fill="#e6e6ea" stroke="#2a2a30" stroke-width="0.5"/><rect x="890.41" y="10.25" width="7.52" height="8.89" fill="#17171c"/><rect x="892.46" y="11.62" width="4.79" height="3.21" fill="#f4f4f6"/><rect x="900.39" y="12.31" width="3.28" height="3.08" fill="#e8e8ec"/><rect x="899.98" y="15.38" width="3.96" height="3.08" fill="#1c1c22"/><rect x="905.45" y="11.62" width="4.10" height="4.17" fill="#f8f8fa"/><rect x="905.18" y="15.79" width="4.65" height="2.67" fill="#1c1c22"/><rect x="910.92" y="11.62" width="2.73" height="4.17" fill="#f2f2f6"/><rect x="910.65" y="15.79" width="3.42" height="2.67" fill="#1c1c22"/><rect x="915.71" y="11.62" width="4.79" height="3.76" fill="#3a3a46" stroke="#22222a" stroke-width="0.3"/><rect x="916.12" y="15.65" width="3.96" height="2.26" fill="#f0f0f4"/><rect x="923.23" y="11.62" width="4.79" height="3.76" fill="#3a3a46" stroke="#22222a" stroke-width="0.3"/><rect x="923.64" y="15.65" width="3.96" height="2.26" fill="#f0f0f4"/><rect x="930.06" y="11.62" width="4.79" height="5.74" fill="#24242c"/><rect x="936.90" y="11.62" width="4.10" height="3.08" fill="#f4f4f6" stroke="#3c3c44" stroke-width="0.35"/><rect x="936.90" y="14.70" width="4.10" height="3.76" fill="#121216"/><rect x="825.47" y="20.51" width="8.89" height="3.38" fill="#c8c8d2" stroke="#3c3c44" stroke-width="0.45"/><path d="M829.91 20.51V23.89" fill="none" stroke="#3c3c44" stroke-width="0.4"/><rect x="824.79" y="23.89" width="10.25" height="2.77" fill="#121216"/><rect x="836.41" y="20.51" width="6.15" height="5.33" fill="#d6d6de" stroke="#3c3c44" stroke-width="0.45"/><path d="M839.48 20.51V25.84" fill="none" stroke="#3c3c44" stroke-width="0.4"/><rect x="845.29" y="20.51" width="4.10" height="3.38" fill="#30303a"/><rect x="844.61" y="23.89" width="5.20" height="2.77" fill="#121216"/><rect x="851.45" y="20.51" width="5.47" height="5.33" fill="#dcdce4" stroke="#3c3c44" stroke-width="0.45"/><path d="M854.18 20.51V25.84" fill="none" stroke="#3c3c44" stroke-width="0.4"/><rect x="860.33" y="20.51" width="6.84" height="5.33" fill="#c4c4ce" stroke="#3c3c44" stroke-width="0.45"/><path d="M863.75 20.51V25.84" fill="none" stroke="#3c3c44" stroke-width="0.4"/><rect x="869.22" y="20.51" width="9.57" height="3.38" fill="#c8c8d2" stroke="#3c3c44" stroke-width="0.45"/><path d="M874.01 20.51V23.89" fill="none" stroke="#3c3c44" stroke-width="0.4"/><rect x="868.54" y="23.89" width="10.53" height="2.77" fill="#121216"/><rect x="882.21" y="21.19" width="4.79" height="4.38" fill="#e6e6ea" stroke="#2a2a30" stroke-width="0.5"/><rect x="890.41" y="19.14" width="7.52" height="8.20" fill="#17171c"/><rect x="892.46" y="20.51" width="4.79" height="2.84" fill="#f4f4f6"/><rect x="900.39" y="21.19" width="3.28" height="2.70" fill="#e8e8ec"/><rect x="899.98" y="23.89" width="3.96" height="2.77" fill="#1c1c22"/><rect x="905.45" y="20.51" width="4.10" height="3.79" fill="#f8f8fa"/><rect x="905.18" y="24.30" width="4.65" height="2.36" fill="#1c1c22"/><rect x="910.92" y="20.51" width="2.73" height="3.79" fill="#f2f2f6"/><rect x="910.65" y="24.30" width="3.42" height="2.36" fill="#1c1c22"/><rect x="915.71" y="20.51" width="4.79" height="3.38" fill="#3a3a46" stroke="#22222a" stroke-width="0.3"/><rect x="916.12" y="24.17" width="3.96" height="1.95" fill="#f0f0f4"/><rect x="923.23" y="20.51" width="4.79" height="3.38" fill="#3a3a46" stroke="#22222a" stroke-width="0.3"/><rect x="923.64" y="24.17" width="3.96" height="1.95" fill="#f0f0f4"/><rect x="930.06" y="20.51" width="4.79" height="5.06" fill="#24242c"/><rect x="936.90" y="20.51" width="4.10" height="2.77" fill="#f4f4f6" stroke="#3c3c44" stroke-width="0.35"/><rect x="936.90" y="23.28" width="4.10" height="3.38" fill="#121216"/><rect x="825.47" y="28.71" width="8.89" height="3.38" fill="#c8c8d2" stroke="#3c3c44" stroke-width="0.45"/><path d="M829.91 28.71V32.10" fill="none" stroke="#3c3c44" stroke-width="0.4"/><rect x="824.79" y="32.10" width="10.25" height="2.77" fill="#121216"/><rect x="836.41" y="28.71" width="6.15" height="5.33" fill="#d6d6de" stroke="#3c3c44" stroke-width="0.45"/><path d="M839.48 28.71V34.04" fill="none" stroke="#3c3c44" stroke-width="0.4"/><rect x="845.29" y="28.71" width="4.10" height="3.38" fill="#30303a"/><rect x="844.61" y="32.10" width="5.20" height="2.77" fill="#121216"/><rect x="851.45" y="28.71" width="5.47" height="5.33" fill="#dcdce4" stroke="#3c3c44" stroke-width="0.45"/><path d="M854.18 28.71V34.04" fill="none" stroke="#3c3c44" stroke-width="0.4"/><rect x="860.33" y="28.71" width="6.84" height="5.33" fill="#c4c4ce" stroke="#3c3c44" stroke-width="0.45"/><path d="M863.75 28.71V34.04" fill="none" stroke="#3c3c44" stroke-width="0.4"/><rect x="869.22" y="28.71" width="9.57" height="3.38" fill="#c8c8d2" stroke="#3c3c44" stroke-width="0.45"/><path d="M874.01 28.71V32.10" fill="none" stroke="#3c3c44" stroke-width="0.4"/><rect x="868.54" y="32.10" width="10.53" height="2.77" fill="#121216"/><rect x="882.21" y="29.40" width="4.79" height="4.38" fill="#e6e6ea" stroke="#2a2a30" stroke-width="0.5"/><rect x="890.41" y="27.34" width="7.52" height="8.20" fill="#17171c"/><rect x="892.46" y="28.71" width="4.79" height="2.84" fill="#f4f4f6"/><rect x="900.39" y="29.40" width="3.28" height="2.70" fill="#e8e8ec"/><rect x="899.98" y="32.10" width="3.96" height="2.77" fill="#1c1c22"/><rect x="905.45" y="28.71" width="4.10" height="3.79" fill="#f8f8fa"/><rect x="905.18" y="32.51" width="4.65" height="2.36" fill="#1c1c22"/><rect x="910.92" y="28.71" width="2.73" height="3.79" fill="#f2f2f6"/><rect x="910.65" y="32.51" width="3.42" height="2.36" fill="#1c1c22"/><rect x="915.71" y="28.71" width="4.79" height="3.38" fill="#3a3a46" stroke="#22222a" stroke-width="0.3"/><rect x="916.12" y="32.37" width="3.96" height="1.95" fill="#f0f0f4"/><rect x="923.23" y="28.71" width="4.79" height="3.38" fill="#3a3a46" stroke="#22222a" stroke-width="0.3"/><rect x="923.64" y="32.37" width="3.96" height="1.95" fill="#f0f0f4"/><rect x="930.06" y="28.71" width="4.79" height="5.06" fill="#24242c"/><rect x="936.90" y="28.71" width="4.10" height="2.77" fill="#f4f4f6" stroke="#3c3c44" stroke-width="0.35"/><rect x="936.90" y="31.48" width="4.10" height="3.38" fill="#121216"/><rect x="825.47" y="36.92" width="8.89" height="3.76" fill="#c8c8d2" stroke="#3c3c44" stroke-width="0.45"/><path d="M829.91 36.92V40.68" fill="none" stroke="#3c3c44" stroke-width="0.4"/><rect x="824.79" y="40.68" width="10.25" height="3.08" fill="#121216"/><rect x="836.41" y="36.92" width="6.15" height="6.02" fill="#d6d6de" stroke="#3c3c44" stroke-width="0.45"/><path d="M839.48 36.92V42.93" fill="none" stroke="#3c3c44" stroke-width="0.4"/><rect x="845.29" y="36.92" width="4.10" height="3.76" fill="#30303a"/><rect x="844.61" y="40.68" width="5.20" height="3.08" fill="#121216"/><rect x="851.45" y="36.92" width="5.47" height="6.02" fill="#dcdce4" stroke="#3c3c44" stroke-width="0.45"/><path d="M854.18 36.92V42.93" fill="none" stroke="#3c3c44" stroke-width="0.4"/><rect x="860.33" y="36.92" width="6.84" height="6.02" fill="#c4c4ce" stroke="#3c3c44" stroke-width="0.45"/><path d="M863.75 36.92V42.93" fill="none" stroke="#3c3c44" stroke-width="0.4"/><rect x="869.22" y="36.92" width="9.57" height="3.76" fill="#c8c8d2" stroke="#3c3c44" stroke-width="0.45"/><path d="M874.01 36.92V40.68" fill="none" stroke="#3c3c44" stroke-width="0.4"/><rect x="868.54" y="40.68" width="10.53" height="3.08" fill="#121216"/><rect x="882.21" y="37.60" width="4.79" height="5.06" fill="#e6e6ea" stroke="#2a2a30" stroke-width="0.5"/><rect x="890.41" y="35.55" width="7.52" height="8.89" fill="#17171c"/><rect x="892.46" y="36.92" width="4.79" height="3.21" fill="#f4f4f6"/><rect x="900.39" y="37.60" width="3.28" height="3.08" fill="#e8e8ec"/><rect x="899.98" y="40.68" width="3.96" height="3.08" fill="#1c1c22"/><rect x="905.45" y="36.92" width="4.10" height="4.17" fill="#f8f8fa"/><rect x="905.18" y="41.09" width="4.65" height="2.67" fill="#1c1c22"/><rect x="910.92" y="36.92" width="2.73" height="4.17" fill="#f2f2f6"/><rect x="910.65" y="41.09" width="3.42" height="2.67" fill="#1c1c22"/><rect x="915.71" y="36.92" width="4.79" height="3.76" fill="#3a3a46" stroke="#22222a" stroke-width="0.3"/><rect x="916.12" y="40.95" width="3.96" height="2.26" fill="#f0f0f4"/><rect x="923.23" y="36.92" width="4.79" height="3.76" fill="#3a3a46" stroke="#22222a" stroke-width="0.3"/><rect x="923.64" y="40.95" width="3.96" height="2.26" fill="#f0f0f4"/><rect x="930.06" y="36.92" width="4.79" height="5.74" fill="#24242c"/><rect x="936.90" y="36.92" width="4.10" height="3.08" fill="#f4f4f6" stroke="#3c3c44" stroke-width="0.35"/><rect x="936.90" y="39.99" width="4.10" height="3.76" fill="#121216"/><rect x="943.74" y="6.84" width="2.73" height="49.90" fill="#111116"/><rect x="946.47" y="6.84" width="3.42" height="49.90" fill="#a2a2ac"/><rect x="947.84" y="12.31" width="2.05" height="32.81" fill="#3a3a44"/><rect x="823.42" y="45.12" width="56.74" height="1.37" fill="#44444c"/><rect x="897.93" y="45.12" width="45.80" height="1.37" fill="#44444c"/><rect x="824.10" y="46.76" width="18.46" height="9.98" fill="#1e1e24"/><rect x="824.92" y="48.13" width="1.64" height="7.93" fill="#e2e2e8"/><rect x="827.82" y="48.13" width="1.64" height="7.93" fill="#e2e2e8"/><rect x="830.71" y="48.13" width="1.64" height="7.93" fill="#e2e2e8"/><rect x="833.60" y="48.13" width="1.64" height="7.93" fill="#e2e2e8"/><rect x="836.50" y="48.13" width="1.64" height="7.93" fill="#e2e2e8"/><rect x="839.39" y="48.13" width="1.64" height="7.93" fill="#e2e2e8"/><rect x="844.61" y="46.76" width="12.31" height="9.98" fill="#1e1e24"/><rect x="845.43" y="48.13" width="1.64" height="7.93" fill="#e2e2e8"/><rect x="848.23" y="48.13" width="1.64" height="7.93" fill="#e2e2e8"/><rect x="851.04" y="48.13" width="1.64" height="7.93" fill="#e2e2e8"/><rect x="853.84" y="48.13" width="1.64" height="7.93" fill="#e2e2e8"/><rect x="859.65" y="46.76" width="19.82" height="9.98" fill="#1e1e24"/><rect x="860.47" y="48.13" width="1.64" height="7.93" fill="#e2e2e8"/><rect x="863.59" y="48.13" width="1.64" height="7.93" fill="#e2e2e8"/><rect x="866.71" y="48.13" width="1.64" height="7.93" fill="#e2e2e8"/><rect x="869.84" y="48.13" width="1.64" height="7.93" fill="#e2e2e8"/><rect x="872.96" y="48.13" width="1.64" height="7.93" fill="#e2e2e8"/><rect x="876.08" y="48.13" width="1.64" height="7.93" fill="#e2e2e8"/><rect x="880.16" y="45.12" width="17.77" height="12.03" fill="#ffffff"/><rect x="898.62" y="46.76" width="15.72" height="9.98" fill="#26262c"/><rect x="899.98" y="48.54" width="2.19" height="7.52" fill="#c8c8d0"/><rect x="903.40" y="48.54" width="2.19" height="7.52" fill="#c8c8d0"/><rect x="909.55" y="48.54" width="2.19" height="7.52" fill="#c8c8d0"/><rect x="915.02" y="46.76" width="28.71" height="9.98" fill="#d4d4da" stroke="#55555c" stroke-width="0.4"/><rect x="916.39" y="47.85" width="1.91" height="8.48" fill="#f2f2f5" stroke="#66666e" stroke-width="0.35"/><rect x="919.81" y="47.85" width="1.91" height="8.48" fill="#f2f2f5" stroke="#66666e" stroke-width="0.35"/><rect x="923.91" y="47.85" width="1.91" height="8.48" fill="#f2f2f5" stroke="#66666e" stroke-width="0.35"/><rect x="928.01" y="47.85" width="1.91" height="8.48" fill="#f2f2f5" stroke="#66666e" stroke-width="0.35"/><rect x="932.11" y="47.85" width="1.91" height="8.48" fill="#f2f2f5" stroke="#66666e" stroke-width="0.35"/><rect x="936.22" y="47.85" width="1.91" height="8.48" fill="#f2f2f5" stroke="#66666e" stroke-width="0.35"/><rect x="939.63" y="47.85" width="1.91" height="8.48" fill="#f2f2f5" stroke="#66666e" stroke-width="0.35"/><rect x="923.23" y="47.17" width="4.79" height="9.57" fill="#5a5a64"/><rect x="924.18" y="48.54" width="2.87" height="7.79" fill="#d0d0d8"/><rect x="742.58" y="97.23" width="38.44" height="66.80" fill="#e2e2e6" stroke="#505058" stroke-width="0.6"/><rect x="745.51" y="101.34" width="3.52" height="3.52" fill="#f4f4f6" stroke="#3c3c44" stroke-width="0.35"/><rect x="745.51" y="104.85" width="3.52" height="3.52" fill="#121216"/><rect x="751.37" y="101.34" width="4.69" height="3.52" fill="#f4f4f6" stroke="#3c3c44" stroke-width="0.35"/><rect x="751.37" y="104.85" width="4.69" height="3.52" fill="#121216"/><rect x="757.81" y="101.34" width="2.93" height="3.52" fill="#f4f4f6" stroke="#3c3c44" stroke-width="0.35"/><rect x="757.81" y="104.85" width="2.93" height="3.52" fill="#121216"/><rect x="763.67" y="101.34" width="4.10" height="6.09" fill="#4a4a56" stroke="#2a2a30" stroke-width="0.3"/><rect x="764.61" y="102.04" width="2.23" height="3.75" fill="#e4e4ea"/><rect x="768.95" y="101.34" width="4.10" height="6.09" fill="#4a4a56" stroke="#2a2a30" stroke-width="0.3"/><rect x="769.88" y="102.04" width="2.23" height="3.75" fill="#e4e4ea"/><rect x="776.21" y="101.92" width="2.11" height="5.27" fill="#2a2a32"/><rect x="775.63" y="103.91" width="3.28" height="0.94" fill="#e2e2e6"/><rect x="745.51" y="110.13" width="3.52" height="3.52" fill="#f4f4f6" stroke="#3c3c44" stroke-width="0.35"/><rect x="745.51" y="113.64" width="3.52" height="3.52" fill="#121216"/><rect x="751.37" y="110.13" width="4.69" height="3.52" fill="#f4f4f6" stroke="#3c3c44" stroke-width="0.35"/><rect x="751.37" y="113.64" width="4.69" height="3.52" fill="#121216"/><rect x="757.81" y="110.13" width="2.93" height="3.52" fill="#f4f4f6" stroke="#3c3c44" stroke-width="0.35"/><rect x="757.81" y="113.64" width="2.93" height="3.52" fill="#121216"/><rect x="763.67" y="110.13" width="4.10" height="6.09" fill="#4a4a56" stroke="#2a2a30" stroke-width="0.3"/><rect x="764.61" y="110.83" width="2.23" height="3.75" fill="#e4e4ea"/><rect x="768.95" y="110.13" width="4.10" height="6.09" fill="#4a4a56" stroke="#2a2a30" stroke-width="0.3"/><rect x="769.88" y="110.83" width="2.23" height="3.75" fill="#e4e4ea"/><rect x="776.21" y="110.71" width="2.11" height="5.27" fill="#2a2a32"/><rect x="775.63" y="112.70" width="3.28" height="0.94" fill="#e2e2e6"/><rect x="745.51" y="118.92" width="3.52" height="3.52" fill="#f4f4f6" stroke="#3c3c44" stroke-width="0.35"/><rect x="745.51" y="122.43" width="3.52" height="3.52" fill="#121216"/><rect x="751.37" y="118.92" width="4.69" height="3.52" fill="#f4f4f6" stroke="#3c3c44" stroke-width="0.35"/><rect x="751.37" y="122.43" width="4.69" height="3.52" fill="#121216"/><rect x="757.81" y="118.92" width="2.93" height="3.52" fill="#f4f4f6" stroke="#3c3c44" stroke-width="0.35"/><rect x="757.81" y="122.43" width="2.93" height="3.52" fill="#121216"/><rect x="763.67" y="118.92" width="4.10" height="6.09" fill="#4a4a56" stroke="#2a2a30" stroke-width="0.3"/><rect x="764.61" y="119.62" width="2.23" height="3.75" fill="#e4e4ea"/><rect x="768.95" y="118.92" width="4.10" height="6.09" fill="#4a4a56" stroke="#2a2a30" stroke-width="0.3"/><rect x="769.88" y="119.62" width="2.23" height="3.75" fill="#e4e4ea"/><rect x="776.21" y="119.50" width="2.11" height="5.27" fill="#2a2a32"/><rect x="775.63" y="121.49" width="3.28" height="0.94" fill="#e2e2e6"/><rect x="745.51" y="128.29" width="3.52" height="3.22" fill="#f4f4f6" stroke="#3c3c44" stroke-width="0.35"/><rect x="745.51" y="131.51" width="3.52" height="3.22" fill="#121216"/><rect x="751.37" y="128.29" width="4.69" height="3.22" fill="#f4f4f6" stroke="#3c3c44" stroke-width="0.35"/><rect x="751.37" y="131.51" width="4.69" height="3.22" fill="#121216"/><rect x="757.81" y="128.29" width="2.93" height="3.22" fill="#f4f4f6" stroke="#3c3c44" stroke-width="0.35"/><rect x="757.81" y="131.51" width="2.93" height="3.22" fill="#121216"/><rect x="763.67" y="128.29" width="4.10" height="5.51" fill="#4a4a56" stroke="#2a2a30" stroke-width="0.3"/><rect x="764.61" y="128.99" width="2.23" height="3.16" fill="#e4e4ea"/><rect x="768.95" y="128.29" width="4.10" height="5.51" fill="#4a4a56" stroke="#2a2a30" stroke-width="0.3"/><rect x="769.88" y="128.99" width="2.23" height="3.16" fill="#e4e4ea"/><rect x="776.21" y="128.88" width="2.11" height="4.69" fill="#2a2a32"/><rect x="775.63" y="130.87" width="3.28" height="0.94" fill="#e2e2e6"/><rect x="745.51" y="136.49" width="3.52" height="3.52" fill="#f4f4f6" stroke="#3c3c44" stroke-width="0.35"/><rect x="745.51" y="140.01" width="3.52" height="3.52" fill="#121216"/><rect x="751.37" y="136.49" width="4.69" height="3.52" fill="#f4f4f6" stroke="#3c3c44" stroke-width="0.35"/><rect x="751.37" y="140.01" width="4.69" height="3.52" fill="#121216"/><rect x="757.81" y="136.49" width="2.93" height="3.52" fill="#f4f4f6" stroke="#3c3c44" stroke-width="0.35"/><rect x="757.81" y="140.01" width="2.93" height="3.52" fill="#121216"/><rect x="763.67" y="136.49" width="4.10" height="6.09" fill="#4a4a56" stroke="#2a2a30" stroke-width="0.3"/><rect x="764.61" y="137.20" width="2.23" height="3.75" fill="#e4e4ea"/><rect x="768.95" y="136.49" width="4.10" height="6.09" fill="#4a4a56" stroke="#2a2a30" stroke-width="0.3"/><rect x="769.88" y="137.20" width="2.23" height="3.75" fill="#e4e4ea"/><rect x="776.21" y="137.08" width="2.11" height="5.27" fill="#2a2a32"/><rect x="775.63" y="139.07" width="3.28" height="0.94" fill="#e2e2e6"/><rect x="745.51" y="145.28" width="3.52" height="3.52" fill="#f4f4f6" stroke="#3c3c44" stroke-width="0.35"/><rect x="745.51" y="148.80" width="3.52" height="3.52" fill="#121216"/><rect x="751.37" y="145.28" width="4.69" height="3.52" fill="#f4f4f6" stroke="#3c3c44" stroke-width="0.35"/><rect x="751.37" y="148.80" width="4.69" height="3.52" fill="#121216"/><rect x="757.81" y="145.28" width="2.93" height="3.52" fill="#f4f4f6" stroke="#3c3c44" stroke-width="0.35"/><rect x="757.81" y="148.80" width="2.93" height="3.52" fill="#121216"/><rect x="763.67" y="145.28" width="3.52" height="7.62" fill="#1e1e24"/><rect x="769.30" y="145.28" width="3.52" height="7.62" fill="#1e1e24"/><rect x="775.63" y="145.28" width="3.05" height="7.62" fill="#1e1e24"/><rect x="781.02" y="97.23" width="62.93" height="66.80" fill="#bcbcc8" stroke="#505058" stroke-width="0.6"/><rect x="781.02" y="97.23" width="62.93" height="16.99" fill="#85858f"/><rect x="781.02" y="113.88" width="62.93" height="3.28" fill="#121216"/><rect x="782.42" y="101.34" width="4.10" height="5.63" fill="#e8e8ee" stroke="#2a2a30" stroke-width="0.45"/><rect x="783.60" y="102.27" width="2.23" height="3.16" fill="#3a3a44"/><rect x="790.63" y="101.34" width="3.52" height="5.63" fill="#e8e8ee" stroke="#2a2a30" stroke-width="0.45"/><rect x="791.80" y="102.27" width="1.64" height="3.16" fill="#3a3a44"/><rect x="817.58" y="101.34" width="3.52" height="5.63" fill="#e8e8ee" stroke="#2a2a30" stroke-width="0.45"/><rect x="818.75" y="102.27" width="1.64" height="3.16" fill="#3a3a44"/><rect x="825.79" y="101.34" width="3.52" height="5.63" fill="#e8e8ee" stroke="#2a2a30" stroke-width="0.45"/><rect x="826.96" y="102.27" width="1.64" height="3.16" fill="#3a3a44"/><rect x="798.25" y="101.92" width="15.23" height="3.52" fill="#121216"/><rect x="799.07" y="102.51" width="2.58" height="2.34" fill="#f2f2f6"/><rect x="802.93" y="102.51" width="2.58" height="2.34" fill="#f2f2f6"/><rect x="807.03" y="102.51" width="2.58" height="2.34" fill="#f2f2f6"/><rect x="810.32" y="102.51" width="2.58" height="2.34" fill="#f2f2f6"/><rect x="798.25" y="106.02" width="15.23" height="1.17" fill="#121216"/><rect x="832.23" y="101.92" width="10.90" height="3.52" fill="#1c1c22"/><rect x="833.40" y="102.51" width="2.93" height="2.34" fill="#f2f2f6"/><rect x="839.26" y="102.51" width="3.28" height="2.34" fill="#f2f2f6"/><rect x="832.23" y="105.79" width="10.90" height="1.64" fill="#121216"/><rect x="782.42" y="110.13" width="4.10" height="5.63" fill="#e8e8ee" stroke="#2a2a30" stroke-width="0.45"/><rect x="783.60" y="111.06" width="2.23" height="3.16" fill="#3a3a44"/><rect x="790.63" y="110.13" width="3.52" height="5.63" fill="#e8e8ee" stroke="#2a2a30" stroke-width="0.45"/><rect x="791.80" y="111.06" width="1.64" height="3.16" fill="#3a3a44"/><rect x="817.58" y="110.13" width="3.52" height="5.63" fill="#e8e8ee" stroke="#2a2a30" stroke-width="0.45"/><rect x="818.75" y="111.06" width="1.64" height="3.16" fill="#3a3a44"/><rect x="825.79" y="110.13" width="3.52" height="5.63" fill="#e8e8ee" stroke="#2a2a30" stroke-width="0.45"/><rect x="826.96" y="111.06" width="1.64" height="3.16" fill="#3a3a44"/><rect x="798.25" y="110.71" width="15.23" height="3.52" fill="#121216"/><rect x="799.07" y="111.30" width="2.58" height="2.34" fill="#f2f2f6"/><rect x="802.93" y="111.30" width="2.58" height="2.34" fill="#f2f2f6"/><rect x="807.03" y="111.30" width="2.58" height="2.34" fill="#f2f2f6"/><rect x="810.32" y="111.30" width="2.58" height="2.34" fill="#f2f2f6"/><rect x="798.25" y="114.81" width="15.23" height="1.17" fill="#121216"/><rect x="832.23" y="110.71" width="10.90" height="3.52" fill="#1c1c22"/><rect x="833.40" y="111.30" width="2.93" height="2.34" fill="#f2f2f6"/><rect x="839.26" y="111.30" width="3.28" height="2.34" fill="#f2f2f6"/><rect x="832.23" y="114.58" width="10.90" height="1.64" fill="#121216"/><rect x="788.28" y="118.92" width="14.06" height="33.99" fill="#15151a"/><rect x="826.96" y="118.92" width="15.23" height="33.99" fill="#15151a"/><rect x="795.32" y="119.50" width="4.92" height="3.52" fill="#f6f6f8"/><rect x="789.22" y="119.85" width="3.16" height="2.81" fill="#50505a"/><rect x="828.71" y="119.50" width="5.86" height="3.52" fill="#f6f6f8"/><rect x="836.92" y="119.85" width="4.10" height="2.81" fill="#484852"/><rect x="782.42" y="118.92" width="4.10" height="5.86" fill="#d9d9e2" stroke="#3a3a44" stroke-width="0.5"/><rect x="783.60" y="120.09" width="1.88" height="3.28" fill="#8e8e9a"/><rect x="806.45" y="118.92" width="7.03" height="5.86" fill="#ececf0" stroke="#3a3a44" stroke-width="0.5"/><rect x="807.62" y="120.09" width="1.88" height="3.52" fill="#3c3c46"/><rect x="810.43" y="119.85" width="2.11" height="3.75" fill="#9a9aa6"/><rect x="816.41" y="118.92" width="6.45" height="5.86" fill="#ececf0" stroke="#3a3a44" stroke-width="0.5"/><rect x="817.58" y="120.09" width="1.88" height="3.52" fill="#3c3c46"/><rect x="820.39" y="119.85" width="1.52" height="3.75" fill="#9a9aa6"/><rect x="795.32" y="128.88" width="4.92" height="3.52" fill="#f6f6f8"/><rect x="789.22" y="129.23" width="3.16" height="2.81" fill="#50505a"/><rect x="828.71" y="128.88" width="5.86" height="3.52" fill="#f6f6f8"/><rect x="836.92" y="129.23" width="4.10" height="2.81" fill="#484852"/><rect x="782.42" y="128.29" width="4.10" height="5.27" fill="#d9d9e2" stroke="#3a3a44" stroke-width="0.5"/><rect x="783.60" y="129.46" width="1.88" height="2.70" fill="#8e8e9a"/><rect x="806.45" y="128.29" width="7.03" height="5.27" fill="#ececf0" stroke="#3a3a44" stroke-width="0.5"/><rect x="807.62" y="129.46" width="1.88" height="2.93" fill="#3c3c46"/><rect x="810.43" y="129.23" width="2.11" height="3.16" fill="#9a9aa6"/><rect x="816.41" y="128.29" width="6.45" height="5.27" fill="#ececf0" stroke="#3a3a44" stroke-width="0.5"/><rect x="817.58" y="129.46" width="1.88" height="2.93" fill="#3c3c46"/><rect x="820.39" y="129.23" width="1.52" height="3.16" fill="#9a9aa6"/><rect x="795.32" y="137.08" width="4.92" height="3.52" fill="#f6f6f8"/><rect x="789.22" y="137.43" width="3.16" height="2.81" fill="#50505a"/><rect x="828.71" y="137.08" width="5.86" height="3.52" fill="#f6f6f8"/><rect x="836.92" y="137.43" width="4.10" height="2.81" fill="#484852"/><rect x="782.42" y="136.49" width="4.10" height="5.86" fill="#d9d9e2" stroke="#3a3a44" stroke-width="0.5"/><rect x="783.60" y="137.67" width="1.88" height="3.28" fill="#8e8e9a"/><rect x="806.45" y="136.49" width="7.03" height="5.86" fill="#ececf0" stroke="#3a3a44" stroke-width="0.5"/><rect x="807.62" y="137.67" width="1.88" height="3.52" fill="#3c3c46"/><rect x="810.43" y="137.43" width="2.11" height="3.75" fill="#9a9aa6"/><rect x="816.41" y="136.49" width="6.45" height="5.86" fill="#ececf0" stroke="#3a3a44" stroke-width="0.5"/><rect x="817.58" y="137.67" width="1.88" height="3.52" fill="#3c3c46"/><rect x="820.39" y="137.43" width="1.52" height="3.75" fill="#9a9aa6"/><rect x="795.32" y="145.87" width="4.92" height="3.52" fill="#f6f6f8"/><rect x="789.22" y="146.22" width="3.16" height="2.81" fill="#50505a"/><rect x="828.71" y="145.87" width="5.86" height="3.52" fill="#f6f6f8"/><rect x="836.92" y="146.22" width="4.10" height="2.81" fill="#484852"/><rect x="782.42" y="145.28" width="4.10" height="5.86" fill="#d9d9e2" stroke="#3a3a44" stroke-width="0.5"/><rect x="783.60" y="146.46" width="1.88" height="3.28" fill="#8e8e9a"/><rect x="806.45" y="145.28" width="7.03" height="5.86" fill="#ececf0" stroke="#3a3a44" stroke-width="0.5"/><rect x="807.62" y="146.46" width="1.88" height="3.52" fill="#3c3c46"/><rect x="810.43" y="146.22" width="2.11" height="3.75" fill="#9a9aa6"/><rect x="816.41" y="145.28" width="6.45" height="5.86" fill="#ececf0" stroke="#3a3a44" stroke-width="0.5"/><rect x="817.58" y="146.46" width="1.88" height="3.52" fill="#3c3c46"/><rect x="820.39" y="146.22" width="1.52" height="3.75" fill="#9a9aa6"/><path d="M794.14 117.16V152.90M835.75 117.16V152.90" fill="none" stroke="#8a7a52" stroke-width="0.5"/><rect x="742.58" y="152.32" width="101.37" height="1.41" fill="#40404a"/><rect x="743.75" y="154.42" width="1.88" height="9.61" fill="#2a2a32"/><rect x="744.22" y="155.83" width="0.94" height="7.62" fill="#cfcfd6"/><rect x="746.68" y="154.42" width="1.88" height="9.61" fill="#2a2a32"/><rect x="747.15" y="155.83" width="0.94" height="7.62" fill="#cfcfd6"/><rect x="752.19" y="154.42" width="1.88" height="9.61" fill="#2a2a32"/><rect x="752.66" y="155.83" width="0.94" height="7.62" fill="#cfcfd6"/><rect x="755.24" y="154.42" width="1.88" height="9.61" fill="#2a2a32"/><rect x="755.70" y="155.83" width="0.94" height="7.62" fill="#cfcfd6"/><rect x="758.05" y="154.42" width="1.88" height="9.61" fill="#2a2a32"/><rect x="758.52" y="155.83" width="0.94" height="7.62" fill="#cfcfd6"/><rect x="763.67" y="154.42" width="1.88" height="9.61" fill="#2a2a32"/><rect x="764.14" y="155.83" width="0.94" height="7.62" fill="#cfcfd6"/><rect x="766.72" y="154.42" width="1.88" height="9.61" fill="#2a2a32"/><rect x="767.19" y="155.83" width="0.94" height="7.62" fill="#cfcfd6"/><rect x="769.53" y="154.42" width="1.88" height="9.61" fill="#2a2a32"/><rect x="770.00" y="155.83" width="0.94" height="7.62" fill="#cfcfd6"/><rect x="772.81" y="154.42" width="1.88" height="9.61" fill="#2a2a32"/><rect x="773.28" y="155.83" width="0.94" height="7.62" fill="#cfcfd6"/><rect x="776.10" y="154.42" width="1.88" height="9.61" fill="#2a2a32"/><rect x="776.56" y="155.83" width="0.94" height="7.62" fill="#cfcfd6"/><rect x="742.58" y="153.72" width="7.62" height="10.31" fill="#d8d8de" stroke="#606068" stroke-width="0.4"/><rect x="781.84" y="154.42" width="9.96" height="9.61" fill="#202028"/><rect x="782.66" y="156.07" width="1.76" height="7.38" fill="#e8e8ee"/><rect x="785.67" y="156.07" width="1.76" height="7.38" fill="#e8e8ee"/><rect x="788.67" y="156.07" width="1.76" height="7.38" fill="#e8e8ee"/><rect x="794.14" y="154.42" width="9.38" height="9.61" fill="#202028"/><rect x="794.96" y="156.07" width="1.76" height="7.38" fill="#e8e8ee"/><rect x="797.78" y="156.07" width="1.76" height="7.38" fill="#e8e8ee"/><rect x="800.59" y="156.07" width="1.76" height="7.38" fill="#e8e8ee"/><rect x="805.86" y="154.42" width="8.20" height="9.61" fill="#202028"/><rect x="806.68" y="156.07" width="1.76" height="7.38" fill="#e8e8ee"/><rect x="810.32" y="156.07" width="1.76" height="7.38" fill="#e8e8ee"/><rect x="815.24" y="154.42" width="7.62" height="9.61" fill="#202028"/><rect x="816.06" y="156.07" width="1.76" height="7.38" fill="#e8e8ee"/><rect x="819.40" y="156.07" width="1.76" height="7.38" fill="#e8e8ee"/><rect x="824.61" y="154.42" width="9.96" height="9.61" fill="#202028"/><rect x="825.43" y="156.07" width="1.76" height="7.38" fill="#e8e8ee"/><rect x="828.44" y="156.07" width="1.76" height="7.38" fill="#e8e8ee"/><rect x="831.45" y="156.07" width="1.76" height="7.38" fill="#e8e8ee"/><rect x="836.33" y="154.42" width="7.03" height="9.61" fill="#202028"/><rect x="837.15" y="156.07" width="1.76" height="7.38" fill="#e8e8ee"/><rect x="840.20" y="156.07" width="1.76" height="7.38" fill="#e8e8ee"/><rect x="744.92" y="91.96" width="6.45" height="5.27" fill="#ededf1" stroke="#44444c" stroke-width="0.6"/><rect x="744.92" y="91.96" width="6.45" height="1.29" fill="#5a5a64"/><rect x="783.60" y="91.96" width="9.96" height="5.27" fill="#ededf1" stroke="#44444c" stroke-width="0.6"/><rect x="783.60" y="91.96" width="9.96" height="1.29" fill="#5a5a64"/><rect x="834.57" y="91.96" width="7.62" height="5.27" fill="#ededf1" stroke="#44444c" stroke-width="0.6"/><rect x="834.57" y="91.96" width="7.62" height="1.29" fill="#5a5a64"/><rect x="755.70" y="96.06" width="6.80" height="1.17" fill="#8a8a94"/><rect x="777.74" y="95.83" width="5.86" height="1.41" fill="#60606a"/><rect x="726.17" y="85.05" width="11.13" height="1.17" fill="#4a4a50"/><path d="M733.79 152.90L741.99 144.70V152.90Z" fill="#f4f4f6" stroke="#44444c" stroke-width="0.5"/><path d="M738.83 96.53l3.2 1.2" fill="none" stroke="#5a62d6" stroke-width="0.9"/><path d="M738.83 106.49l3.2 1.2" fill="none" stroke="#5a62d6" stroke-width="0.9"/><path d="M738.83 115.28l3.2 1.2" fill="none" stroke="#5a62d6" stroke-width="0.9"/><path d="M738.83 124.66l3.2 1.2" fill="none" stroke="#5a62d6" stroke-width="0.9"/><path d="M738.83 132.86l3.2 1.2" fill="none" stroke="#5a62d6" stroke-width="0.9"/><path d="M738.83 142.24l3.2 1.2" fill="none" stroke="#5a62d6" stroke-width="0.9"/><path d="M738.83 151.61l3.2 1.2" fill="none" stroke="#5a62d6" stroke-width="0.9"/><path d="M738.83 162.16l3.2 1.2" fill="none" stroke="#5a62d6" stroke-width="0.9"/><rect x="842.93" y="97.23" width="30.47" height="66.80" fill="#e4e4e8" stroke="#505058" stroke-width="0.6"/><rect x="846.09" y="101.34" width="3.28" height="6.09" fill="#34343e"/><rect x="845.39" y="103.91" width="4.69" height="1.17" fill="#e4e4e8"/><rect x="851.13" y="101.34" width="7.03" height="3.52" fill="#f4f4f6" stroke="#3c3c44" stroke-width="0.35"/><rect x="851.13" y="104.85" width="7.03" height="3.52" fill="#121216"/><rect x="861.09" y="101.34" width="4.10" height="6.09" fill="#3c3c48"/><rect x="862.15" y="102.27" width="1.99" height="3.05" fill="#e8e8ee"/><rect x="860.74" y="104.15" width="4.80" height="0.82" fill="#dcdce2"/><rect x="866.37" y="101.34" width="3.52" height="6.09" fill="#3c3c48"/><rect x="867.42" y="102.27" width="1.41" height="3.05" fill="#e8e8ee"/><rect x="866.02" y="104.15" width="4.22" height="0.82" fill="#dcdce2"/><rect x="846.09" y="110.13" width="3.28" height="6.09" fill="#34343e"/><rect x="845.39" y="112.70" width="4.69" height="1.17" fill="#e4e4e8"/><rect x="851.13" y="110.13" width="7.03" height="3.52" fill="#f4f4f6" stroke="#3c3c44" stroke-width="0.35"/><rect x="851.13" y="113.64" width="7.03" height="3.52" fill="#121216"/><rect x="861.09" y="110.13" width="4.10" height="6.09" fill="#3c3c48"/><rect x="862.15" y="111.06" width="1.99" height="3.05" fill="#e8e8ee"/><rect x="860.74" y="112.94" width="4.80" height="0.82" fill="#dcdce2"/><rect x="866.37" y="110.13" width="3.52" height="6.09" fill="#3c3c48"/><rect x="867.42" y="111.06" width="1.41" height="3.05" fill="#e8e8ee"/><rect x="866.02" y="112.94" width="4.22" height="0.82" fill="#dcdce2"/><rect x="846.09" y="118.92" width="3.28" height="6.09" fill="#34343e"/><rect x="845.39" y="121.49" width="4.69" height="1.17" fill="#e4e4e8"/><rect x="851.13" y="118.92" width="7.03" height="3.52" fill="#f4f4f6" stroke="#3c3c44" stroke-width="0.35"/><rect x="851.13" y="122.43" width="7.03" height="3.52" fill="#121216"/><rect x="861.09" y="118.92" width="4.10" height="6.09" fill="#3c3c48"/><rect x="862.15" y="119.85" width="1.99" height="3.05" fill="#e8e8ee"/><rect x="860.74" y="121.73" width="4.80" height="0.82" fill="#dcdce2"/><rect x="866.37" y="118.92" width="3.52" height="6.09" fill="#3c3c48"/><rect x="867.42" y="119.85" width="1.41" height="3.05" fill="#e8e8ee"/><rect x="866.02" y="121.73" width="4.22" height="0.82" fill="#dcdce2"/><rect x="846.09" y="128.29" width="3.28" height="5.51" fill="#34343e"/><rect x="845.39" y="130.87" width="4.69" height="1.17" fill="#e4e4e8"/><rect x="851.13" y="128.29" width="7.03" height="3.22" fill="#f4f4f6" stroke="#3c3c44" stroke-width="0.35"/><rect x="851.13" y="131.51" width="7.03" height="3.22" fill="#121216"/><rect x="861.09" y="128.29" width="4.10" height="5.51" fill="#3c3c48"/><rect x="862.15" y="129.23" width="1.99" height="2.46" fill="#e8e8ee"/><rect x="860.74" y="131.10" width="4.80" height="0.82" fill="#dcdce2"/><rect x="866.37" y="128.29" width="3.52" height="5.51" fill="#3c3c48"/><rect x="867.42" y="129.23" width="1.41" height="2.46" fill="#e8e8ee"/><rect x="866.02" y="131.10" width="4.22" height="0.82" fill="#dcdce2"/><rect x="846.09" y="136.49" width="3.28" height="6.09" fill="#34343e"/><rect x="845.39" y="139.07" width="4.69" height="1.17" fill="#e4e4e8"/><rect x="851.13" y="136.49" width="7.03" height="3.52" fill="#f4f4f6" stroke="#3c3c44" stroke-width="0.35"/><rect x="851.13" y="140.01" width="7.03" height="3.52" fill="#121216"/><rect x="861.09" y="136.49" width="4.10" height="6.09" fill="#3c3c48"/><rect x="862.15" y="137.43" width="1.99" height="3.05" fill="#e8e8ee"/><rect x="860.74" y="139.31" width="4.80" height="0.82" fill="#dcdce2"/><rect x="866.37" y="136.49" width="3.52" height="6.09" fill="#3c3c48"/><rect x="867.42" y="137.43" width="1.41" height="3.05" fill="#e8e8ee"/><rect x="866.02" y="139.31" width="4.22" height="0.82" fill="#dcdce2"/><rect x="846.09" y="145.28" width="3.28" height="6.09" fill="#34343e"/><rect x="845.39" y="147.86" width="4.69" height="1.17" fill="#e4e4e8"/><rect x="851.13" y="145.28" width="7.03" height="3.52" fill="#f4f4f6" stroke="#3c3c44" stroke-width="0.35"/><rect x="851.13" y="148.80" width="7.03" height="3.52" fill="#121216"/><rect x="861.09" y="145.28" width="4.10" height="6.09" fill="#3c3c48"/><rect x="862.15" y="146.22" width="1.99" height="3.05" fill="#e8e8ee"/><rect x="860.74" y="148.10" width="4.80" height="0.82" fill="#dcdce2"/><rect x="866.37" y="145.28" width="3.52" height="6.09" fill="#3c3c48"/><rect x="867.42" y="146.22" width="1.41" height="3.05" fill="#e8e8ee"/><rect x="866.02" y="148.10" width="4.22" height="0.82" fill="#dcdce2"/><rect x="840.00" y="152.32" width="33.40" height="1.41" fill="#40404a"/><rect x="840.00" y="154.42" width="3.52" height="9.61" fill="#24242c"/><rect x="840.94" y="155.83" width="1.64" height="7.62" fill="#dadae0"/><rect x="841.41" y="154.42" width="0.70" height="9.61" fill="#24242c"/><rect x="851.72" y="154.42" width="6.45" height="9.61" fill="#24242c"/><rect x="852.66" y="155.83" width="4.57" height="7.62" fill="#dadae0"/><rect x="854.59" y="154.42" width="0.70" height="9.61" fill="#24242c"/><rect x="861.09" y="154.42" width="9.96" height="9.61" fill="#24242c"/><rect x="862.03" y="155.83" width="8.09" height="7.62" fill="#dadae0"/><rect x="865.72" y="154.42" width="0.70" height="9.61" fill="#24242c"/><rect x="873.40" y="104.85" width="39.85" height="59.18" fill="#eeeef2" stroke="#505058" stroke-width="0.6"/><rect x="875.16" y="97.23" width="14.06" height="7.62" fill="#70707c" stroke="#2a2a32" stroke-width="0.6"/><rect x="876.33" y="98.41" width="11.72" height="5.27" fill="#8e8e9a"/><rect x="889.81" y="97.23" width="13.48" height="7.62" fill="#f4f4f6" stroke="#1a1a20" stroke-width="0.7"/><rect x="889.81" y="97.23" width="13.48" height="1.41" fill="#2a2a32"/><path d="M903.28 99.58H916.17M903.28 104.85H915.00" fill="none" stroke="#55555e" stroke-width="0.5"/><rect x="873.40" y="104.85" width="41.60" height="8.20" fill="#7e7e8a"/><rect x="875.16" y="109.89" width="2.58" height="2.34" fill="#e6e6ec"/><rect x="879.26" y="109.89" width="2.58" height="2.34" fill="#e6e6ec"/><rect x="883.95" y="109.89" width="2.58" height="2.34" fill="#e6e6ec"/><rect x="888.05" y="109.89" width="2.58" height="2.34" fill="#e6e6ec"/><rect x="892.74" y="109.89" width="2.58" height="2.34" fill="#e6e6ec"/><rect x="899.18" y="109.89" width="2.58" height="2.34" fill="#e6e6ec"/><rect x="903.28" y="109.89" width="2.58" height="2.34" fill="#e6e6ec"/><rect x="909.14" y="109.89" width="2.58" height="2.34" fill="#e6e6ec"/><rect x="873.40" y="113.06" width="39.49" height="4.10" fill="#121216"/><rect x="874.57" y="118.92" width="6.45" height="6.09" fill="#e6e6ec" stroke="#55555e" stroke-width="0.45"/><rect x="875.51" y="119.85" width="1.88" height="3.98" fill="#b0b0bc"/><rect x="895.08" y="118.92" width="5.86" height="6.09" fill="#e6e6ec" stroke="#55555e" stroke-width="0.45"/><rect x="896.02" y="119.85" width="1.88" height="3.98" fill="#b0b0bc"/><rect x="887.46" y="118.92" width="3.52" height="3.98" fill="#f8f8fa"/><rect x="885.59" y="118.92" width="2.11" height="4.22" fill="#1c1c22"/><rect x="884.65" y="122.90" width="6.56" height="2.34" fill="#1c1c22"/><rect x="907.97" y="118.92" width="3.52" height="3.98" fill="#f8f8fa"/><rect x="906.10" y="118.92" width="2.11" height="4.22" fill="#1c1c22"/><rect x="905.16" y="122.90" width="6.56" height="2.34" fill="#1c1c22"/><rect x="874.57" y="128.29" width="6.45" height="5.51" fill="#e6e6ec" stroke="#55555e" stroke-width="0.45"/><rect x="875.51" y="129.23" width="1.88" height="3.40" fill="#b0b0bc"/><rect x="895.08" y="128.29" width="5.86" height="5.51" fill="#e6e6ec" stroke="#55555e" stroke-width="0.45"/><rect x="896.02" y="129.23" width="1.88" height="3.40" fill="#b0b0bc"/><rect x="887.46" y="128.29" width="3.52" height="3.98" fill="#f8f8fa"/><rect x="885.59" y="128.29" width="2.11" height="4.22" fill="#1c1c22"/><rect x="884.65" y="132.28" width="6.56" height="1.76" fill="#1c1c22"/><rect x="907.97" y="128.29" width="3.52" height="3.98" fill="#f8f8fa"/><rect x="906.10" y="128.29" width="2.11" height="4.22" fill="#1c1c22"/><rect x="905.16" y="132.28" width="6.56" height="1.76" fill="#1c1c22"/><rect x="874.57" y="136.49" width="6.45" height="6.09" fill="#e6e6ec" stroke="#55555e" stroke-width="0.45"/><rect x="875.51" y="137.43" width="1.88" height="3.98" fill="#b0b0bc"/><rect x="895.08" y="136.49" width="5.86" height="6.09" fill="#e6e6ec" stroke="#55555e" stroke-width="0.45"/><rect x="896.02" y="137.43" width="1.88" height="3.98" fill="#b0b0bc"/><rect x="887.46" y="136.49" width="3.52" height="3.98" fill="#f8f8fa"/><rect x="885.59" y="136.49" width="2.11" height="4.22" fill="#1c1c22"/><rect x="884.65" y="140.48" width="6.56" height="2.34" fill="#1c1c22"/><rect x="907.97" y="136.49" width="3.52" height="3.98" fill="#f8f8fa"/><rect x="906.10" y="136.49" width="2.11" height="4.22" fill="#1c1c22"/><rect x="905.16" y="140.48" width="6.56" height="2.34" fill="#1c1c22"/><rect x="874.57" y="145.28" width="6.45" height="6.09" fill="#e6e6ec" stroke="#55555e" stroke-width="0.45"/><rect x="875.51" y="146.22" width="1.88" height="3.98" fill="#b0b0bc"/><rect x="895.08" y="145.28" width="5.86" height="6.09" fill="#e6e6ec" stroke="#55555e" stroke-width="0.45"/><rect x="896.02" y="146.22" width="1.88" height="3.98" fill="#b0b0bc"/><rect x="887.46" y="145.28" width="3.52" height="3.98" fill="#f8f8fa"/><rect x="885.59" y="145.28" width="2.11" height="4.22" fill="#1c1c22"/><rect x="884.65" y="149.27" width="6.56" height="2.34" fill="#1c1c22"/><rect x="907.97" y="145.28" width="3.52" height="3.98" fill="#f8f8fa"/><rect x="906.10" y="145.28" width="2.11" height="4.22" fill="#1c1c22"/><rect x="905.16" y="149.27" width="6.56" height="2.34" fill="#1c1c22"/><rect x="873.40" y="152.32" width="39.26" height="11.72" fill="#c4600f"/><rect x="876.33" y="155.25" width="14.06" height="8.44" fill="#ececf0"/><rect x="878.91" y="155.25" width="0.35" height="8.44" fill="#b8b8c2"/><rect x="881.49" y="155.25" width="0.35" height="8.44" fill="#b8b8c2"/><rect x="884.06" y="155.25" width="0.35" height="8.44" fill="#b8b8c2"/><rect x="886.64" y="155.25" width="0.35" height="8.44" fill="#b8b8c2"/><rect x="895.08" y="155.25" width="5.27" height="8.44" fill="#ececf0"/><rect x="897.66" y="155.25" width="0.35" height="8.44" fill="#b8b8c2"/><rect x="903.87" y="155.25" width="6.45" height="8.44" fill="#ececf0"/><rect x="906.45" y="155.25" width="0.35" height="8.44" fill="#b8b8c2"/><rect x="913.25" y="113.06" width="33.99" height="50.98" fill="#e8e8ec" stroke="#505058" stroke-width="0.6"/><rect x="916.17" y="118.92" width="4.10" height="6.09" fill="#3a3a46"/><rect x="917.23" y="119.85" width="1.99" height="3.05" fill="#e8e8ee"/><rect x="915.82" y="121.96" width="4.80" height="0.82" fill="#dcdce2"/><rect x="923.79" y="118.92" width="4.10" height="6.09" fill="#3a3a46"/><rect x="924.85" y="119.85" width="1.99" height="3.05" fill="#e8e8ee"/><rect x="923.44" y="121.96" width="4.80" height="0.82" fill="#dcdce2"/><rect x="932.00" y="118.92" width="3.52" height="6.09" fill="#3a3a46"/><rect x="933.05" y="119.85" width="1.41" height="3.05" fill="#e8e8ee"/><rect x="931.64" y="121.96" width="4.22" height="0.82" fill="#dcdce2"/><rect x="939.61" y="118.92" width="5.86" height="3.52" fill="#f4f4f6" stroke="#3c3c44" stroke-width="0.35"/><rect x="939.61" y="122.43" width="5.86" height="3.52" fill="#121216"/><rect x="916.17" y="128.29" width="4.10" height="5.51" fill="#3a3a46"/><rect x="917.23" y="129.23" width="1.99" height="2.46" fill="#e8e8ee"/><rect x="915.82" y="131.34" width="4.80" height="0.82" fill="#dcdce2"/><rect x="923.79" y="128.29" width="4.10" height="5.51" fill="#3a3a46"/><rect x="924.85" y="129.23" width="1.99" height="2.46" fill="#e8e8ee"/><rect x="923.44" y="131.34" width="4.80" height="0.82" fill="#dcdce2"/><rect x="932.00" y="128.29" width="3.52" height="5.51" fill="#3a3a46"/><rect x="933.05" y="129.23" width="1.41" height="2.46" fill="#e8e8ee"/><rect x="931.64" y="131.34" width="4.22" height="0.82" fill="#dcdce2"/><rect x="939.61" y="128.29" width="5.86" height="3.22" fill="#f4f4f6" stroke="#3c3c44" stroke-width="0.35"/><rect x="939.61" y="131.51" width="5.86" height="3.22" fill="#121216"/><rect x="916.17" y="136.49" width="4.10" height="6.09" fill="#3a3a46"/><rect x="917.23" y="137.43" width="1.99" height="3.05" fill="#e8e8ee"/><rect x="915.82" y="139.54" width="4.80" height="0.82" fill="#dcdce2"/><rect x="923.79" y="136.49" width="4.10" height="6.09" fill="#3a3a46"/><rect x="924.85" y="137.43" width="1.99" height="3.05" fill="#e8e8ee"/><rect x="923.44" y="139.54" width="4.80" height="0.82" fill="#dcdce2"/><rect x="932.00" y="136.49" width="3.52" height="6.09" fill="#3a3a46"/><rect x="933.05" y="137.43" width="1.41" height="3.05" fill="#e8e8ee"/><rect x="931.64" y="139.54" width="4.22" height="0.82" fill="#dcdce2"/><rect x="939.61" y="136.49" width="5.86" height="3.52" fill="#f4f4f6" stroke="#3c3c44" stroke-width="0.35"/><rect x="939.61" y="140.01" width="5.86" height="3.52" fill="#121216"/><rect x="916.76" y="145.28" width="3.52" height="7.03" fill="#22222a"/><rect x="923.79" y="145.28" width="11.13" height="5.86" fill="#24242c"/><rect x="923.79" y="151.14" width="11.13" height="1.41" fill="#f0f0f4"/><rect x="939.61" y="145.28" width="5.86" height="3.49" fill="#f4f4f6" stroke="#3c3c44" stroke-width="0.35"/><rect x="939.61" y="148.77" width="5.86" height="6.47" fill="#121216"/><rect x="916.17" y="155.25" width="1.41" height="8.79" fill="#34343c"/><rect x="923.79" y="154.66" width="11.13" height="9.38" fill="#26262e"/><rect x="925.32" y="156.42" width="1.64" height="7.03" fill="#e4e4ea"/><rect x="928.13" y="156.42" width="1.64" height="7.03" fill="#e4e4ea"/><rect x="931.41" y="156.42" width="1.64" height="7.03" fill="#e4e4ea"/><rect x="939.61" y="156.42" width="5.86" height="7.62" fill="#d6d6dc" stroke="#66666e" stroke-width="0.4"/><path d="M915.59 113.06V99.58L926.14 104.27V113.06M926.14 104.27V99.58L938.44 104.27V113.06" fill="none" stroke="#2a2a32" stroke-width="0.7"/><rect x="920.28" y="87.27" width="1.17" height="12.31" fill="#d0d0d6" stroke="#44444c" stroke-width="0.35"/><rect x="923.21" y="87.27" width="1.17" height="13.48" fill="#d0d0d6" stroke="#44444c" stroke-width="0.35"/><rect x="929.65" y="91.96" width="4.10" height="8.79" fill="#f4f4f6" stroke="#33333a" stroke-width="0.6"/><rect x="840.00" y="91.96" width="2.58" height="5.27" fill="#ededf1" stroke="#44444c" stroke-width="0.6"/><path d="M950.75 97.94l3.4 -1.6" fill="none" stroke="#5a62d6" stroke-width="0.9"/><path d="M950.75 107.90l3.4 -1.6" fill="none" stroke="#5a62d6" stroke-width="0.9"/><path d="M950.75 116.69l3.4 -1.6" fill="none" stroke="#5a62d6" stroke-width="0.9"/><path d="M950.75 126.06l3.4 -1.6" fill="none" stroke="#5a62d6" stroke-width="0.9"/><path d="M950.75 134.27l3.4 -1.6" fill="none" stroke="#5a62d6" stroke-width="0.9"/><path d="M950.75 143.64l3.4 -1.6" fill="none" stroke="#5a62d6" stroke-width="0.9"/><path d="M950.75 153.02l3.4 -1.6" fill="none" stroke="#5a62d6" stroke-width="0.9"/><path d="M950.75 163.57l3.4 -1.6" fill="none" stroke="#5a62d6" stroke-width="0.9"/><path d="M956.02 96.77l2.6 -1.2" fill="none" stroke="#5a62d6" stroke-width="0.9"/><path d="M956.02 106.73l2.6 -1.2" fill="none" stroke="#5a62d6" stroke-width="0.9"/><path d="M757 90V167" fill="none" stroke="#f3efcf" stroke-width="0.5"/><path d="M786 90V167" fill="none" stroke="#f3efcf" stroke-width="0.5"/><path d="M815 90V167" fill="none" stroke="#f3efcf" stroke-width="0.5"/><path d="M849 90V167" fill="none" stroke="#f3efcf" stroke-width="0.5"/><path d="M866 90V167" fill="none" stroke="#f3efcf" stroke-width="0.5"/><path d="M898 90V167" fill="none" stroke="#f3efcf" stroke-width="0.5"/><path d="M921 90V167" fill="none" stroke="#f3efcf" stroke-width="0.5"/><path d="M940 90V167" fill="none" stroke="#f3efcf" stroke-width="0.5"/><path d="M742 97.2H948" fill="none" stroke="#b9bce8" stroke-width="0.35"/><path d="M742 107H948" fill="none" stroke="#b9bce8" stroke-width="0.35"/><path d="M742 116H948" fill="none" stroke="#b9bce8" stroke-width="0.35"/><path d="M742 125.5H948" fill="none" stroke="#b9bce8" stroke-width="0.35"/><path d="M742 134H948" fill="none" stroke="#b9bce8" stroke-width="0.35"/><path d="M742 143H948" fill="none" stroke="#b9bce8" stroke-width="0.35"/><path d="M742 152.3H948" fill="none" stroke="#b9bce8" stroke-width="0.35"/></g>
</svg>
</body></html>
